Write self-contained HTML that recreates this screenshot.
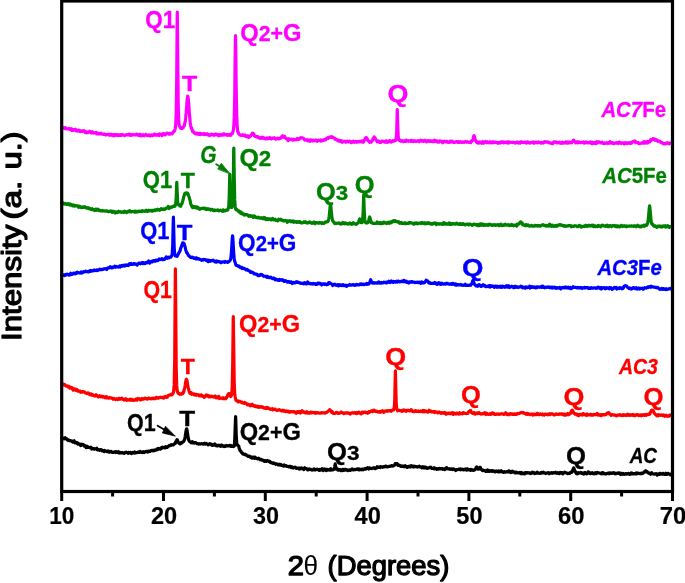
<!DOCTYPE html>
<html><head><meta charset="utf-8"><title>XRD patterns</title>
<style>
html,body{margin:0;padding:0;background:#fff;}
svg{display:block;}
text{font-family:"Liberation Sans", "DejaVu Sans", sans-serif;font-weight:bold;}
</style></head>
<body>
<svg width="685" height="583" viewBox="0 0 685 583">
<rect x="0" y="0" width="685" height="583" fill="#ffffff"/>
<g id="curves" fill="none" stroke-width="3.2" stroke-linejoin="round" stroke-linecap="round">
<polyline stroke="#000000" points="61.7,437.9 62.2,437.6 62.7,438.4 63.2,438.4 63.7,438.9 64.2,438.9 64.7,438.1 65.2,437.7 65.7,438.6 66.2,438.7 66.7,438.8 67.2,439.8 67.7,439.8 68.2,440.3 68.7,439.9 69.2,440.6 69.7,440.5 70.2,440.6 70.7,441.0 71.2,440.8 71.7,441.2 72.2,441.7 72.7,441.3 73.2,442.1 73.7,441.3 74.2,440.8 74.7,442.5 75.2,443.0 75.7,442.8 76.2,442.6 76.7,442.4 77.2,443.1 77.7,444.0 78.2,443.3 78.7,443.8 79.2,444.2 79.7,444.1 80.2,444.4 80.7,445.6 81.2,444.2 81.7,444.5 82.2,444.8 82.7,444.3 83.2,444.7 83.7,444.9 84.2,446.2 84.7,445.5 85.2,445.7 85.7,446.1 86.2,447.7 86.7,447.4 87.2,446.3 87.7,446.7 88.2,447.4 88.7,447.4 89.2,447.6 89.7,447.4 90.2,447.2 90.7,447.9 91.2,447.5 91.7,449.0 92.2,448.5 92.7,448.6 93.2,448.7 93.7,448.7 94.2,449.2 94.7,448.7 95.2,448.9 95.7,448.9 96.2,448.9 96.7,448.3 97.2,449.8 97.7,449.4 98.2,449.8 98.7,449.6 99.2,450.0 99.7,450.3 100.2,449.7 100.7,449.7 101.2,449.7 101.7,450.4 102.2,450.9 102.7,450.4 103.2,450.6 103.7,450.5 104.2,451.5 104.7,450.5 105.2,450.8 105.7,451.1 106.2,451.0 106.7,451.6 107.2,451.4 107.7,451.6 108.2,451.0 108.7,451.6 109.2,452.2 109.7,451.6 110.2,451.4 110.7,451.8 111.2,451.4 111.7,452.3 112.2,452.4 112.7,452.5 113.2,452.5 113.7,452.4 114.2,451.8 114.7,451.8 115.2,451.8 115.7,452.5 116.2,451.7 116.7,452.3 117.2,452.1 117.7,452.2 118.2,452.7 118.7,451.8 119.2,452.4 119.7,453.0 120.2,452.4 120.7,452.6 121.2,453.0 121.7,452.8 122.2,452.7 122.7,452.7 123.2,453.1 123.7,453.0 124.2,453.3 124.7,452.7 125.2,452.4 125.7,452.6 126.2,452.2 126.7,452.5 127.2,452.5 127.7,453.0 128.2,453.3 128.7,452.4 129.2,452.5 129.7,452.9 130.2,453.1 130.7,452.5 131.2,453.0 131.7,453.5 132.2,453.2 132.7,452.5 133.2,452.9 133.7,453.0 134.2,453.1 134.7,452.0 135.2,452.8 135.7,452.9 136.2,452.8 136.7,452.6 137.2,452.6 137.7,452.2 138.2,452.3 138.7,451.9 139.2,452.4 139.7,452.4 140.2,451.5 140.7,452.0 141.2,452.0 141.7,452.4 142.2,452.6 142.7,452.1 143.2,451.6 143.7,452.3 144.2,452.5 144.7,451.9 145.2,451.7 145.7,451.5 146.2,451.4 146.7,451.4 147.2,451.9 147.7,452.1 148.2,451.1 148.7,451.1 149.2,451.1 149.7,451.6 150.2,451.4 150.7,450.8 151.2,450.6 151.7,450.3 152.2,450.4 152.7,450.7 153.2,450.9 153.7,450.2 154.2,450.0 154.7,450.5 155.2,450.2 155.7,450.2 156.2,449.5 156.7,449.2 157.2,449.6 157.7,449.6 158.2,448.4 158.7,448.5 159.2,448.8 159.7,448.6 160.2,449.1 160.7,448.2 161.2,448.8 161.7,447.8 162.2,447.1 162.7,447.4 163.2,447.6 163.7,447.6 164.2,447.4 164.7,447.1 165.2,447.9 165.7,446.7 166.2,446.8 166.7,447.0 167.2,447.3 167.7,447.0 168.2,446.4 168.7,446.0 169.2,445.5 169.7,445.5 170.2,445.6 170.7,444.9 171.2,445.3 171.7,444.7 172.2,445.0 172.7,444.8 173.2,445.0 173.7,444.5 174.2,444.1 174.7,443.5 175.2,443.5 175.7,441.7 176.2,441.5 176.7,440.1 177.0,439.6 177.2,439.7 177.7,440.7 178.2,442.3 178.7,442.8 179.2,443.4 179.7,443.5 180.2,443.9 180.7,442.8 181.2,442.4 181.7,443.0 182.2,442.5 182.7,441.9 183.2,441.9 183.7,441.4 184.2,440.3 184.7,439.2 185.2,436.6 185.7,433.2 186.2,430.0 186.6,428.8 186.7,428.8 187.2,431.2 187.7,434.8 188.2,438.0 188.7,440.0 189.2,440.9 189.7,441.7 190.2,442.0 190.7,442.1 191.2,442.8 191.7,441.8 192.2,441.7 192.7,442.8 193.2,442.8 193.7,442.5 194.2,443.1 194.7,443.0 195.2,442.6 195.7,442.6 196.2,443.2 196.7,443.3 197.2,443.7 197.7,443.5 198.2,443.8 198.7,444.1 199.2,443.7 199.7,443.9 200.2,444.1 200.7,443.9 201.2,443.7 201.7,443.6 202.2,443.7 202.7,443.8 203.2,444.2 203.7,443.8 204.2,443.6 204.7,443.2 205.2,444.1 205.7,444.1 206.2,443.5 206.7,444.0 207.2,443.8 207.7,444.3 208.2,444.9 208.7,444.4 209.2,443.9 209.7,443.7 210.2,444.0 210.7,444.2 211.2,444.9 211.7,444.2 212.2,445.4 212.7,444.8 213.2,444.9 213.7,445.2 214.2,444.6 214.7,443.9 215.2,444.7 215.7,445.5 216.2,445.0 216.7,445.0 217.2,445.9 217.7,445.7 218.2,445.6 218.7,445.2 219.2,445.5 219.7,445.8 220.2,446.1 220.7,446.3 221.2,445.0 221.7,445.1 222.2,445.2 222.7,445.8 223.2,446.0 223.7,446.5 224.2,446.6 224.7,446.0 225.2,446.4 225.7,446.3 226.2,445.5 226.7,445.8 227.2,446.0 227.7,445.8 228.2,445.8 228.7,446.0 229.2,445.7 229.7,445.4 230.2,445.4 230.7,446.2 231.2,446.4 231.7,445.8 232.2,446.2 232.7,446.4 233.2,446.6 233.7,446.5 234.2,446.2 234.7,441.0 235.2,427.4 235.6,416.7 235.7,417.9 236.2,434.5 236.7,442.9 237.2,445.1 237.7,445.2 238.2,445.7 238.7,445.9 239.2,448.3 239.7,449.5 240.2,450.9 240.7,450.9 241.2,451.8 241.7,452.6 242.2,452.7 242.7,454.0 243.2,454.0 243.7,454.2 244.2,454.1 244.7,454.6 245.2,454.1 245.7,454.8 246.2,454.7 246.7,455.4 247.2,455.8 247.7,455.8 248.2,456.5 248.7,456.2 249.2,456.0 249.7,456.5 250.2,456.6 250.7,457.5 251.2,457.7 251.7,457.3 252.2,458.1 252.7,457.4 253.2,457.1 253.7,457.0 254.2,458.3 254.7,458.3 255.2,457.2 255.7,458.0 256.2,458.2 256.7,458.4 257.2,458.8 257.7,458.8 258.2,458.3 258.7,458.2 259.2,458.8 259.7,459.0 260.2,459.7 260.7,459.5 261.2,459.3 261.7,460.1 262.2,459.9 262.7,460.1 263.2,460.1 263.7,460.7 264.2,461.4 264.7,460.6 265.2,460.6 265.7,461.0 266.2,461.4 266.7,460.8 267.2,460.5 267.7,461.0 268.2,461.1 268.7,461.5 269.2,461.1 269.7,461.2 270.2,462.3 270.7,462.2 271.2,462.8 271.7,463.0 272.2,462.8 272.7,462.8 273.2,463.5 273.7,463.0 274.2,463.1 274.7,463.6 275.2,463.8 275.7,464.3 276.2,463.9 276.7,463.9 277.2,464.2 277.7,464.3 278.2,464.9 278.7,464.9 279.2,464.3 279.7,464.8 280.2,465.1 280.7,464.5 281.2,464.7 281.7,465.4 282.2,465.5 282.7,465.6 283.2,466.0 283.7,466.1 284.2,465.0 284.7,465.9 285.2,465.8 285.7,465.9 286.2,465.7 286.7,466.4 287.2,466.2 287.7,466.5 288.2,466.3 288.7,466.9 289.2,467.0 289.7,466.4 290.2,466.3 290.7,466.5 291.2,467.5 291.7,466.8 292.2,466.9 292.7,467.4 293.2,468.0 293.7,467.6 294.2,467.4 294.7,467.6 295.2,467.2 295.7,467.6 296.2,468.3 296.7,468.5 297.2,468.2 297.7,468.1 298.2,468.0 298.7,468.1 299.2,469.0 299.7,468.3 300.2,468.9 300.7,468.2 301.2,467.9 301.7,468.6 302.2,468.2 302.7,468.6 303.2,468.6 303.7,469.5 304.2,468.5 304.7,467.8 305.2,468.6 305.7,468.6 306.2,468.5 306.7,468.7 307.2,469.5 307.7,469.9 308.2,469.7 308.7,469.6 309.2,468.9 309.7,469.1 310.2,469.1 310.7,469.4 311.2,469.8 311.7,470.0 312.2,470.1 312.7,469.9 313.2,469.9 313.7,469.1 314.2,468.9 314.7,469.5 315.2,470.1 315.7,469.7 316.2,469.3 316.7,469.4 317.2,469.2 317.7,469.5 318.2,469.8 318.7,470.0 319.2,470.3 319.7,469.4 320.2,470.2 320.7,469.4 321.2,469.2 321.7,469.9 322.2,468.7 322.7,469.6 323.2,470.6 323.7,469.9 324.2,470.0 324.7,468.9 325.2,469.4 325.7,469.6 326.2,470.5 326.7,469.3 327.2,470.0 327.7,469.6 328.2,470.1 328.7,469.7 329.2,469.9 329.7,470.1 330.2,469.2 330.7,468.7 331.2,470.0 331.7,469.6 332.2,470.0 332.7,469.8 333.2,469.8 333.7,469.4 334.2,468.8 334.7,466.5 335.2,463.9 335.7,466.7 336.2,469.1 336.7,468.8 337.2,468.7 337.7,470.0 338.2,470.2 338.7,469.6 339.2,469.6 339.7,469.5 340.2,469.5 340.7,470.6 341.2,470.3 341.7,470.3 342.2,470.6 342.7,469.3 343.2,469.8 343.7,470.4 344.2,470.3 344.7,469.3 345.2,470.0 345.7,469.5 346.2,469.9 346.7,469.7 347.2,470.3 347.7,470.6 348.2,470.3 348.7,470.1 349.2,469.8 349.7,469.8 350.2,470.4 350.7,470.0 351.2,469.7 351.7,469.2 352.2,468.9 352.7,469.7 353.2,470.0 353.7,469.9 354.2,469.8 354.7,469.3 355.2,469.7 355.7,469.5 356.2,469.5 356.7,469.1 357.2,469.3 357.7,469.0 358.2,469.5 358.7,469.0 359.2,469.9 359.7,469.2 360.2,469.6 360.7,469.6 361.2,469.1 361.7,469.7 362.2,469.2 362.7,469.2 363.2,469.8 363.7,469.0 364.2,469.0 364.7,469.1 365.2,468.5 365.7,469.0 366.2,468.3 366.7,468.4 367.2,468.4 367.7,467.7 368.2,468.7 368.7,469.1 369.2,467.8 369.7,468.4 370.2,468.3 370.7,468.2 371.2,468.4 371.7,468.6 372.2,468.3 372.7,468.2 373.2,467.9 373.7,468.1 374.2,467.7 374.7,468.1 375.2,468.6 375.7,467.9 376.2,467.7 376.7,468.1 377.2,466.7 377.7,467.4 378.2,467.3 378.7,467.4 379.2,466.9 379.7,467.1 380.2,467.5 380.7,466.7 381.2,466.9 381.7,467.0 382.2,466.9 382.7,467.3 383.2,466.9 383.7,466.6 384.2,466.9 384.7,466.8 385.2,466.3 385.7,466.0 386.2,466.6 386.7,466.8 387.2,466.6 387.7,466.9 388.2,466.6 388.7,466.4 389.2,466.4 389.7,466.5 390.2,466.1 390.7,466.1 391.2,465.7 391.7,465.6 392.2,466.1 392.7,465.8 393.2,465.9 393.7,465.5 394.2,465.4 394.7,465.1 395.2,463.5 395.7,463.5 396.2,463.5 396.7,463.8 397.2,463.7 397.7,465.1 398.2,465.5 398.7,465.5 399.2,465.1 399.7,465.5 400.2,465.9 400.7,466.3 401.2,466.5 401.7,466.0 402.2,466.4 402.7,466.0 403.2,466.1 403.7,466.1 404.2,466.7 404.7,466.2 405.2,465.7 405.7,466.6 406.2,466.7 406.7,466.6 407.2,467.4 407.7,466.7 408.2,466.9 408.7,466.3 409.2,466.2 409.7,466.5 410.2,467.1 410.7,466.7 411.2,465.7 411.7,466.4 412.2,466.1 412.7,466.8 413.2,466.5 413.7,467.1 414.2,466.1 414.7,466.5 415.2,466.4 415.7,466.7 416.2,466.6 416.7,466.7 417.2,467.1 417.7,466.8 418.2,466.8 418.7,466.4 419.2,466.2 419.7,467.0 420.2,466.9 420.7,466.9 421.2,467.0 421.7,467.7 422.2,467.3 422.7,466.8 423.2,467.8 423.7,467.8 424.2,467.1 424.7,466.9 425.2,467.8 425.7,467.6 426.2,467.3 426.7,468.0 427.2,468.4 427.7,468.3 428.2,468.0 428.7,468.1 429.2,467.5 429.7,467.4 430.2,467.4 430.7,467.2 431.2,468.0 431.7,468.3 432.2,468.3 432.7,468.5 433.2,468.4 433.7,468.7 434.2,467.8 434.7,468.8 435.2,468.7 435.7,468.4 436.2,468.9 436.7,469.4 437.2,468.7 437.7,469.0 438.2,468.8 438.7,469.1 439.2,468.5 439.7,468.4 440.2,468.9 440.7,468.7 441.2,468.7 441.7,468.7 442.2,468.6 442.7,469.3 443.2,468.8 443.7,469.0 444.2,469.3 444.7,469.6 445.2,469.3 445.7,468.1 446.2,468.8 446.7,467.7 447.2,468.5 447.7,468.5 448.2,469.0 448.7,468.8 449.2,469.1 449.7,468.7 450.2,469.1 450.7,469.3 451.2,468.9 451.7,469.2 452.2,469.5 452.7,468.9 453.2,469.2 453.7,468.9 454.2,469.6 454.7,469.6 455.2,469.9 455.7,470.5 456.2,469.6 456.7,469.5 457.2,469.6 457.7,469.6 458.2,469.5 458.7,469.5 459.2,469.0 459.7,469.3 460.2,469.7 460.7,469.0 461.2,469.6 461.7,469.5 462.2,469.2 462.7,469.6 463.2,469.3 463.7,469.9 464.2,469.5 464.7,469.4 465.2,469.6 465.7,469.0 466.2,470.0 466.7,470.1 467.2,468.8 467.7,469.7 468.2,469.9 468.7,469.4 469.2,469.6 469.7,469.9 470.2,469.5 470.7,470.3 471.2,469.8 471.7,469.4 472.2,469.8 472.7,470.2 473.2,470.5 473.7,470.2 474.2,470.0 474.7,469.9 475.2,469.3 475.7,468.7 476.2,467.5 476.7,467.0 477.2,468.4 477.7,469.2 478.2,469.2 478.7,469.1 479.2,467.9 479.7,467.3 480.2,467.4 480.7,468.3 481.2,469.5 481.7,469.6 482.2,470.4 482.7,470.7 483.2,470.2 483.7,470.5 484.2,470.5 484.7,470.5 485.2,470.8 485.7,471.4 486.2,470.6 486.7,470.3 487.2,471.3 487.7,470.0 488.2,470.6 488.7,471.3 489.2,470.6 489.7,471.3 490.2,470.9 490.7,471.2 491.2,470.8 491.7,471.2 492.2,470.6 492.7,471.2 493.2,470.8 493.7,471.0 494.2,471.2 494.7,472.0 495.2,471.9 495.7,471.1 496.2,471.4 496.7,471.0 497.2,471.1 497.7,471.4 498.2,471.9 498.7,471.0 499.2,471.7 499.7,471.7 500.2,471.9 500.7,471.4 501.2,470.8 501.7,471.3 502.2,471.7 502.7,471.9 503.2,472.3 503.7,472.3 504.2,471.7 504.7,472.0 505.2,472.2 505.7,472.0 506.2,471.9 506.7,471.5 507.2,471.6 507.7,471.9 508.2,471.9 508.7,470.8 509.2,471.5 509.7,471.8 510.2,472.3 510.7,472.5 511.2,471.4 511.7,471.9 512.2,472.1 512.7,471.3 513.2,471.8 513.7,472.2 514.2,472.1 514.7,472.0 515.2,472.9 515.7,472.3 516.2,472.8 516.7,472.2 517.2,472.6 517.7,472.8 518.2,472.8 518.7,473.0 519.2,472.9 519.7,472.4 520.2,472.6 520.7,473.6 521.2,472.5 521.7,473.0 522.2,473.7 522.7,473.2 523.2,473.6 523.7,473.1 524.2,473.4 524.7,473.9 525.2,472.5 525.7,472.6 526.2,472.9 526.7,473.1 527.2,472.6 527.7,472.9 528.2,472.9 528.7,472.7 529.2,473.1 529.7,472.9 530.2,473.5 530.7,473.0 531.2,473.4 531.7,473.1 532.2,472.2 532.7,472.8 533.2,472.4 533.7,472.6 534.2,473.0 534.7,473.5 535.2,473.1 535.7,473.1 536.2,473.3 536.7,473.2 537.2,472.2 537.7,473.0 538.2,473.2 538.7,473.2 539.2,473.1 539.7,473.4 540.2,473.2 540.7,473.0 541.2,472.5 541.7,473.1 542.2,472.9 542.7,472.5 543.2,472.2 543.7,472.8 544.2,472.6 544.7,473.0 545.2,473.2 545.7,473.6 546.2,473.0 546.7,473.1 547.2,472.9 547.7,473.0 548.2,472.6 548.7,473.0 549.2,473.7 549.7,473.1 550.2,472.8 550.7,473.1 551.2,473.0 551.7,472.7 552.2,473.3 552.7,473.2 553.2,472.7 553.7,472.9 554.2,472.6 554.7,472.8 555.2,472.7 555.7,472.3 556.2,473.1 556.7,473.3 557.2,473.0 557.7,472.7 558.2,472.9 558.7,473.5 559.2,473.6 559.7,473.5 560.2,472.4 560.7,472.8 561.2,472.5 561.7,472.6 562.2,472.6 562.7,473.9 563.2,473.3 563.7,472.9 564.2,473.0 564.7,472.2 565.2,472.6 565.7,472.8 566.2,472.9 566.7,472.9 567.2,473.3 567.7,473.7 568.2,473.4 568.7,473.2 569.2,473.1 569.7,473.5 570.2,472.8 570.7,472.5 571.2,472.0 571.7,472.4 572.2,471.9 572.7,470.2 573.2,469.0 573.7,467.9 574.2,469.0 574.7,470.3 575.2,471.5 575.7,472.2 576.2,473.5 576.7,473.1 577.2,473.1 577.7,473.8 578.2,472.6 578.7,472.7 579.2,473.1 579.7,472.9 580.2,472.9 580.7,472.3 581.2,472.6 581.7,473.4 582.2,473.5 582.7,473.5 583.2,473.0 583.7,474.2 584.2,473.0 584.7,473.3 585.2,472.5 585.7,473.2 586.2,473.4 586.7,473.9 587.2,473.1 587.7,473.1 588.2,471.8 588.7,472.2 589.2,473.2 589.7,473.1 590.2,473.6 590.7,472.9 591.2,473.3 591.7,473.3 592.2,472.6 592.7,473.4 593.2,473.8 593.7,473.7 594.2,473.8 594.7,473.3 595.2,472.7 595.7,473.1 596.2,473.6 596.7,472.8 597.2,473.1 597.7,472.5 598.2,472.8 598.7,472.9 599.2,473.0 599.7,473.1 600.2,473.0 600.7,473.6 601.2,473.1 601.7,473.7 602.2,472.8 602.7,472.6 603.2,473.5 603.7,473.7 604.2,473.4 604.7,473.4 605.2,474.0 605.7,473.9 606.2,474.0 606.7,473.6 607.2,473.6 607.7,473.2 608.2,473.2 608.7,473.1 609.2,473.7 609.7,472.9 610.2,473.4 610.7,473.3 611.2,473.1 611.7,473.4 612.2,472.9 612.7,473.1 613.2,473.1 613.7,472.6 614.2,472.7 614.7,473.3 615.2,473.8 615.7,473.4 616.2,473.7 616.7,473.3 617.2,473.0 617.7,473.0 618.2,472.8 618.7,473.4 619.2,473.4 619.7,473.0 620.2,474.3 620.7,474.5 621.2,473.3 621.7,473.3 622.2,473.6 622.7,474.2 623.2,473.5 623.7,474.2 624.2,474.1 624.7,474.4 625.2,473.7 625.7,473.6 626.2,473.5 626.7,474.1 627.2,473.8 627.7,473.8 628.2,473.3 628.7,473.5 629.2,474.1 629.7,474.4 630.2,473.9 630.7,473.9 631.2,473.0 631.7,473.7 632.2,473.2 632.7,474.0 633.2,474.0 633.7,473.7 634.2,473.7 634.7,473.7 635.2,473.9 635.7,473.3 636.2,473.7 636.7,473.0 637.2,473.7 637.7,473.1 638.2,473.1 638.7,473.4 639.2,473.3 639.7,473.6 640.2,473.8 640.7,473.7 641.2,473.1 641.7,473.3 642.2,473.6 642.7,473.4 643.2,472.9 643.7,472.5 644.2,471.8 644.7,471.9 645.2,471.2 645.7,470.8 646.2,471.9 646.7,471.7 647.2,471.6 647.7,472.5 648.2,472.8 648.7,472.8 649.2,473.4 649.7,473.2 650.2,473.3 650.7,474.2 651.2,473.7 651.7,472.6 652.2,473.6 652.7,473.8 653.2,474.0 653.7,474.0 654.2,474.1 654.7,473.8 655.2,473.8 655.7,474.0 656.2,473.6 656.7,474.5 657.2,475.0 657.7,474.1 658.2,474.2 658.7,474.3 659.2,474.4 659.7,473.3 660.2,474.2 660.7,473.8 661.2,473.9 661.7,474.1 662.2,474.2 662.7,473.4 663.2,473.4 663.7,474.1 664.2,474.1 664.7,474.4 665.2,473.8 665.7,473.3 666.2,474.2 666.7,474.4 667.2,474.2 667.7,473.4 668.2,473.4 668.7,473.9 669.2,474.0 669.7,474.2 670.2,474.9 670.7,474.5 671.2,474.2 671.7,474.0 672.2,473.3"/>
<polyline stroke="#ff0000" points="61.7,383.7 62.2,383.7 62.7,384.1 63.2,384.9 63.7,384.5 64.2,384.4 64.7,384.4 65.2,385.4 65.7,385.9 66.2,385.7 66.7,385.8 67.2,385.8 67.7,386.8 68.2,386.6 68.7,386.2 69.2,387.0 69.7,388.1 70.2,387.8 70.7,387.2 71.2,388.2 71.7,388.5 72.2,387.8 72.7,389.3 73.2,390.1 73.7,389.3 74.2,388.8 74.7,388.9 75.2,389.2 75.7,390.2 76.2,390.4 76.7,389.5 77.2,390.0 77.7,391.0 78.2,390.6 78.7,390.9 79.2,391.4 79.7,391.4 80.2,391.2 80.7,392.3 81.2,391.8 81.7,391.6 82.2,392.0 82.7,391.5 83.2,391.5 83.7,391.9 84.2,392.0 84.7,392.1 85.2,392.8 85.7,392.9 86.2,393.0 86.7,393.6 87.2,393.5 87.7,393.0 88.2,392.8 88.7,393.4 89.2,394.2 89.7,393.8 90.2,394.9 90.7,394.1 91.2,393.9 91.7,394.6 92.2,395.3 92.7,394.6 93.2,395.1 93.7,395.5 94.2,395.3 94.7,396.0 95.2,396.1 95.7,395.7 96.2,394.8 96.7,395.6 97.2,395.8 97.7,396.2 98.2,397.0 98.7,396.5 99.2,396.4 99.7,395.8 100.2,396.2 100.7,396.9 101.2,396.1 101.7,396.5 102.2,396.4 102.7,397.0 103.2,396.4 103.7,396.9 104.2,397.1 104.7,397.6 105.2,396.9 105.7,397.5 106.2,397.9 106.7,396.7 107.2,397.6 107.7,397.7 108.2,398.1 108.7,398.2 109.2,397.8 109.7,397.4 110.2,398.0 110.7,398.0 111.2,398.1 111.7,397.9 112.2,398.5 112.7,398.6 113.2,399.2 113.7,398.4 114.2,398.9 114.7,398.8 115.2,399.0 115.7,399.5 116.2,399.1 116.7,398.7 117.2,399.2 117.7,399.6 118.2,399.3 118.7,399.2 119.2,398.3 119.7,399.2 120.2,399.2 120.7,398.9 121.2,399.0 121.7,398.1 122.2,398.6 122.7,399.3 123.2,399.0 123.7,399.0 124.2,400.0 124.7,399.8 125.2,399.5 125.7,398.8 126.2,399.4 126.7,400.4 127.2,399.8 127.7,400.0 128.2,399.9 128.7,399.8 129.2,400.1 129.7,399.4 130.2,400.0 130.7,399.3 131.2,400.1 131.7,400.2 132.2,399.4 132.7,400.0 133.2,400.5 133.7,400.3 134.2,400.1 134.7,400.0 135.2,400.1 135.7,399.2 136.2,399.7 136.7,399.6 137.2,400.1 137.7,398.5 138.2,398.8 138.7,398.8 139.2,399.0 139.7,398.9 140.2,399.7 140.7,399.2 141.2,399.8 141.7,398.7 142.2,398.5 142.7,398.5 143.2,399.2 143.7,399.1 144.2,398.7 144.7,398.1 145.2,398.7 145.7,398.4 146.2,398.9 146.7,398.7 147.2,399.2 147.7,398.9 148.2,398.6 148.7,398.0 149.2,398.7 149.7,398.4 150.2,398.6 150.7,398.6 151.2,398.8 151.7,398.5 152.2,398.3 152.7,398.6 153.2,398.1 153.7,398.6 154.2,398.3 154.7,398.7 155.2,398.7 155.7,398.0 156.2,397.4 156.7,397.4 157.2,397.8 157.7,397.7 158.2,398.3 158.7,397.9 159.2,397.7 159.7,397.4 160.2,397.2 160.7,397.3 161.2,397.4 161.7,397.6 162.2,397.4 162.7,397.8 163.2,397.1 163.7,398.2 164.2,397.4 164.7,396.9 165.2,396.5 165.7,396.9 166.2,397.3 166.7,396.8 167.2,397.1 167.7,396.2 168.2,395.5 168.7,395.3 169.2,395.1 169.7,395.2 170.2,394.9 170.7,395.0 171.2,394.3 171.7,394.8 172.2,394.5 172.7,394.1 173.2,393.1 173.7,391.1 174.2,384.4 174.7,360.1 175.2,287.3 175.4,268.8 175.7,304.7 176.2,368.1 176.7,385.4 177.2,390.6 177.7,392.4 178.2,393.4 178.7,393.3 179.2,393.3 179.7,394.2 180.2,393.8 180.7,394.2 181.2,394.3 181.7,394.2 182.2,393.1 182.7,393.6 183.2,392.9 183.7,391.8 184.2,389.7 184.7,387.8 185.2,385.2 185.7,381.8 186.2,379.5 186.4,379.3 186.7,379.7 187.2,382.1 187.7,385.4 188.2,387.7 188.7,389.7 189.2,391.6 189.7,392.8 190.2,393.4 190.7,392.9 191.2,392.7 191.7,394.4 192.2,394.1 192.7,393.9 193.2,393.8 193.7,393.8 194.2,394.8 194.7,394.1 195.2,394.6 195.7,394.6 196.2,395.3 196.7,394.5 197.2,395.0 197.7,395.0 198.2,394.9 198.7,394.9 199.2,395.8 199.7,395.2 200.2,395.5 200.7,395.9 201.2,394.8 201.7,395.3 202.2,396.3 202.7,396.4 203.2,396.1 203.7,396.2 204.2,397.4 204.7,396.8 205.2,396.5 205.7,395.7 206.2,395.0 206.7,395.9 207.2,395.9 207.7,395.3 208.2,396.5 208.7,396.8 209.2,396.3 209.7,396.0 210.2,396.5 210.7,396.8 211.2,396.2 211.7,396.6 212.2,396.3 212.7,396.3 213.2,396.8 213.7,397.0 214.2,397.2 214.7,396.8 215.2,396.0 215.7,396.9 216.2,397.9 216.7,397.5 217.2,397.1 217.7,397.5 218.2,398.1 218.7,396.4 219.2,397.9 219.7,398.5 220.2,398.1 220.7,398.0 221.2,398.1 221.7,398.2 222.2,398.5 222.7,398.7 223.2,397.8 223.7,398.2 224.2,398.6 224.7,398.3 225.2,398.3 225.7,398.7 226.2,397.3 226.7,397.7 227.2,396.6 227.7,395.2 228.2,394.2 228.7,393.6 229.2,393.6 229.7,393.7 230.2,395.5 230.7,396.6 231.2,395.9 231.7,394.2 232.2,387.3 232.7,363.7 233.2,319.0 233.3,316.6 233.7,345.6 234.2,381.6 234.7,393.5 235.2,397.0 235.7,399.5 236.2,400.5 236.7,400.8 237.2,400.7 237.7,401.0 238.2,401.8 238.7,401.1 239.2,401.6 239.7,401.4 240.2,401.3 240.7,401.9 241.2,402.2 241.7,402.7 242.2,402.3 242.7,402.9 243.2,403.0 243.7,403.1 244.2,403.4 244.7,402.4 245.2,403.2 245.7,403.2 246.2,403.3 246.7,403.7 247.2,404.8 247.7,404.9 248.2,404.4 248.7,404.3 249.2,404.9 249.7,405.1 250.2,405.7 250.7,404.8 251.2,405.5 251.7,404.9 252.2,404.3 252.7,405.6 253.2,405.1 253.7,405.8 254.2,405.6 254.7,406.4 255.2,405.9 255.7,405.9 256.2,406.8 256.7,406.5 257.2,406.3 257.7,406.2 258.2,407.1 258.7,407.4 259.2,406.8 259.7,407.0 260.2,406.7 260.7,407.2 261.2,407.2 261.7,406.7 262.2,406.9 262.7,407.5 263.2,407.2 263.7,407.9 264.2,408.0 264.7,408.2 265.2,407.9 265.7,408.5 266.2,407.5 266.7,407.3 267.2,408.3 267.7,407.6 268.2,408.0 268.7,408.5 269.2,408.6 269.7,408.7 270.2,409.4 270.7,409.3 271.2,409.1 271.7,408.9 272.2,408.7 272.7,409.9 273.2,409.1 273.7,409.3 274.2,409.5 274.7,409.2 275.2,409.2 275.7,409.8 276.2,409.8 276.7,410.3 277.2,410.3 277.7,410.0 278.2,410.1 278.7,410.0 279.2,409.6 279.7,409.9 280.2,410.0 280.7,410.4 281.2,410.9 281.7,410.9 282.2,410.9 282.7,410.1 283.2,411.1 283.7,411.2 284.2,410.7 284.7,410.7 285.2,411.4 285.7,411.6 286.2,411.3 286.7,411.0 287.2,411.6 287.7,411.7 288.2,411.1 288.7,411.8 289.2,412.2 289.7,412.3 290.2,411.6 290.7,411.8 291.2,411.5 291.7,411.7 292.2,411.5 292.7,411.8 293.2,411.8 293.7,411.5 294.2,411.7 294.7,412.4 295.2,412.1 295.7,412.6 296.2,413.3 296.7,412.1 297.2,411.7 297.7,411.5 298.2,412.0 298.7,412.4 299.2,411.6 299.7,411.8 300.2,413.0 300.7,411.9 301.2,412.2 301.7,412.3 302.2,410.7 302.7,412.2 303.2,412.3 303.7,411.9 304.2,412.0 304.7,412.3 305.2,412.8 305.7,412.8 306.2,412.0 306.7,411.7 307.2,412.8 307.7,413.1 308.2,413.1 308.7,412.6 309.2,412.9 309.7,413.2 310.2,412.4 310.7,412.1 311.2,412.8 311.7,412.3 312.2,412.8 312.7,412.4 313.2,412.5 313.7,412.6 314.2,412.7 314.7,412.5 315.2,413.2 315.7,412.6 316.2,413.1 316.7,412.5 317.2,412.6 317.7,412.7 318.2,412.9 318.7,412.9 319.2,413.2 319.7,413.1 320.2,413.1 320.7,413.1 321.2,412.5 321.7,412.6 322.2,412.9 322.7,412.9 323.2,412.8 323.7,412.8 324.2,412.9 324.7,413.0 325.2,413.2 325.7,412.6 326.2,412.4 326.7,412.4 327.2,412.1 327.7,411.5 328.2,411.3 328.7,410.7 329.2,410.7 329.7,409.6 330.2,410.5 330.7,410.7 331.2,411.5 331.7,412.3 332.2,411.5 332.7,412.9 333.2,413.0 333.7,413.5 334.2,413.4 334.7,413.4 335.2,413.0 335.7,413.2 336.2,412.4 336.7,412.9 337.2,412.7 337.7,413.4 338.2,412.9 338.7,413.4 339.2,413.2 339.7,413.0 340.2,412.8 340.7,412.5 341.2,412.0 341.7,412.6 342.2,412.6 342.7,413.0 343.2,413.1 343.7,413.6 344.2,412.9 344.7,413.2 345.2,413.2 345.7,413.1 346.2,412.7 346.7,413.1 347.2,413.0 347.7,412.8 348.2,412.9 348.7,413.4 349.2,413.4 349.7,413.1 350.2,414.1 350.7,413.3 351.2,413.3 351.7,412.8 352.2,412.9 352.7,412.7 353.2,413.1 353.7,413.0 354.2,413.0 354.7,412.6 355.2,412.8 355.7,413.4 356.2,412.8 356.7,413.6 357.2,413.4 357.7,412.7 358.2,412.8 358.7,412.1 359.2,413.1 359.7,412.9 360.2,413.2 360.7,413.0 361.2,413.9 361.7,413.2 362.2,412.0 362.7,412.1 363.2,412.7 363.7,412.1 364.2,412.4 364.7,412.3 365.2,412.1 365.7,412.6 366.2,412.3 366.7,412.6 367.2,412.7 367.7,413.3 368.2,412.4 368.7,411.8 369.2,412.4 369.7,411.9 370.2,411.8 370.7,411.4 371.2,410.8 371.7,410.8 372.2,410.9 372.7,411.5 373.2,410.4 373.7,411.2 374.2,410.2 374.7,410.7 375.2,410.9 375.7,411.5 376.2,411.4 376.7,411.2 377.2,411.5 377.7,411.9 378.2,412.2 378.7,411.7 379.2,411.5 379.7,411.6 380.2,412.3 380.7,411.3 381.2,411.5 381.7,411.8 382.2,411.7 382.7,410.8 383.2,412.0 383.7,412.3 384.2,412.0 384.7,411.0 385.2,411.1 385.7,411.1 386.2,411.1 386.7,410.6 387.2,411.0 387.7,411.2 388.2,410.6 388.7,410.7 389.2,410.9 389.7,410.5 390.2,410.7 390.7,410.6 391.2,411.2 391.7,410.8 392.2,410.2 392.7,410.0 393.2,409.7 393.7,409.8 394.2,407.9 394.7,401.2 395.2,377.6 395.4,370.8 395.7,383.7 396.2,403.6 396.7,408.8 397.2,409.8 397.7,410.8 398.2,410.6 398.7,410.4 399.2,410.4 399.7,410.4 400.2,410.7 400.7,410.6 401.2,410.9 401.7,411.3 402.2,410.4 402.7,411.1 403.2,410.7 403.7,409.9 404.2,410.4 404.7,410.7 405.2,411.0 405.7,410.4 406.2,411.4 406.7,410.3 407.2,410.3 407.7,410.3 408.2,410.3 408.7,410.5 409.2,410.8 409.7,410.9 410.2,410.7 410.7,410.4 411.2,409.6 411.7,410.3 412.2,411.1 412.7,411.5 413.2,411.6 413.7,411.3 414.2,411.7 414.7,411.2 415.2,410.7 415.7,410.6 416.2,411.3 416.7,411.3 417.2,411.2 417.7,411.4 418.2,410.9 418.7,411.5 419.2,411.3 419.7,411.3 420.2,411.3 420.7,411.0 421.2,411.4 421.7,411.2 422.2,411.5 422.7,411.8 423.2,410.4 423.7,411.2 424.2,411.7 424.7,410.6 425.2,411.7 425.7,411.0 426.2,411.0 426.7,411.2 427.2,411.9 427.7,412.2 428.2,411.8 428.7,411.2 429.2,410.3 429.7,410.8 430.2,411.5 430.7,411.0 431.2,411.6 431.7,412.0 432.2,411.9 432.7,411.5 433.2,411.6 433.7,411.9 434.2,411.4 434.7,412.5 435.2,411.8 435.7,411.9 436.2,411.9 436.7,412.0 437.2,412.4 437.7,412.9 438.2,412.5 438.7,412.5 439.2,412.0 439.7,412.7 440.2,412.8 440.7,412.9 441.2,413.4 441.7,412.6 442.2,413.1 442.7,412.9 443.2,412.7 443.7,412.9 444.2,413.4 444.7,412.5 445.2,413.1 445.7,413.4 446.2,414.2 446.7,413.2 447.2,413.6 447.7,413.7 448.2,413.1 448.7,413.0 449.2,413.1 449.7,413.7 450.2,413.8 450.7,413.2 451.2,413.5 451.7,413.5 452.2,412.6 452.7,414.1 453.2,414.4 453.7,412.9 454.2,413.2 454.7,413.6 455.2,413.7 455.7,414.1 456.2,413.9 456.7,413.1 457.2,413.4 457.7,413.1 458.2,413.5 458.7,414.0 459.2,413.7 459.7,412.8 460.2,413.9 460.7,413.8 461.2,413.6 461.7,413.4 462.2,413.2 462.7,413.8 463.2,412.6 463.7,412.7 464.2,413.2 464.7,413.2 465.2,413.4 465.7,413.4 466.2,413.5 466.7,413.7 467.2,413.2 467.7,413.4 468.2,412.8 468.7,411.8 469.2,411.2 469.7,411.0 470.2,410.5 470.3,410.5 470.7,410.6 471.2,411.7 471.7,412.7 472.2,412.8 472.7,413.3 473.2,413.5 473.7,412.6 474.2,412.8 474.7,413.3 475.2,414.1 475.7,413.3 476.2,413.0 476.7,413.4 477.2,413.6 477.7,413.6 478.2,412.8 478.7,413.3 479.2,412.8 479.7,413.4 480.2,413.7 480.7,414.1 481.2,413.8 481.7,413.9 482.2,413.9 482.7,413.7 483.2,413.8 483.7,413.3 484.2,413.0 484.7,412.7 485.2,413.7 485.7,414.5 486.2,414.3 486.7,413.2 487.2,413.9 487.7,414.0 488.2,414.3 488.7,414.3 489.2,413.9 489.7,413.9 490.2,413.9 490.7,414.4 491.2,414.0 491.7,413.2 492.2,413.6 492.7,412.9 493.2,413.8 493.7,413.4 494.2,413.5 494.7,414.4 495.2,414.1 495.7,414.5 496.2,414.3 496.7,413.9 497.2,414.1 497.7,414.1 498.2,414.1 498.7,413.9 499.2,414.4 499.7,414.1 500.2,414.1 500.7,413.9 501.2,413.7 501.7,413.8 502.2,413.8 502.7,414.0 503.2,414.1 503.7,414.4 504.2,413.8 504.7,414.1 505.2,413.5 505.7,412.8 506.2,414.0 506.7,414.1 507.2,414.6 507.7,413.9 508.2,414.1 508.7,414.0 509.2,414.7 509.7,414.2 510.2,413.6 510.7,413.6 511.2,414.1 511.7,413.9 512.2,414.3 512.7,413.9 513.2,414.2 513.7,414.4 514.2,414.2 514.7,413.8 515.2,413.8 515.7,414.5 516.2,414.5 516.7,414.0 517.2,413.7 517.7,413.4 518.2,413.6 518.7,413.6 519.2,413.5 519.7,413.3 520.2,413.0 520.7,412.6 521.2,412.7 521.7,412.3 522.2,412.3 522.7,412.8 523.2,412.5 523.7,412.7 524.2,413.3 524.7,413.3 525.2,413.6 525.7,413.7 526.2,414.3 526.7,413.3 527.2,414.0 527.7,414.3 528.2,413.7 528.7,414.0 529.2,414.2 529.7,414.7 530.2,414.5 530.7,414.2 531.2,414.1 531.7,414.2 532.2,414.1 532.7,415.1 533.2,414.4 533.7,414.7 534.2,414.1 534.7,414.8 535.2,414.4 535.7,414.5 536.2,414.6 536.7,414.3 537.2,413.4 537.7,413.5 538.2,414.6 538.7,414.5 539.2,414.3 539.7,414.6 540.2,413.9 540.7,414.2 541.2,414.5 541.7,414.5 542.2,414.8 542.7,414.0 543.2,414.4 543.7,414.5 544.2,415.0 544.7,414.4 545.2,414.0 545.7,414.0 546.2,414.4 546.7,414.3 547.2,414.6 547.7,414.8 548.2,414.1 548.7,414.0 549.2,414.2 549.7,413.8 550.2,414.6 550.7,414.0 551.2,414.0 551.7,413.7 552.2,413.8 552.7,414.0 553.2,414.6 553.7,414.7 554.2,414.9 554.7,415.0 555.2,414.7 555.7,414.0 556.2,413.9 556.7,414.1 557.2,414.2 557.7,414.3 558.2,414.5 558.7,414.4 559.2,413.8 559.7,414.1 560.2,414.2 560.7,414.0 561.2,413.9 561.7,413.9 562.2,414.4 562.7,414.0 563.2,414.8 563.7,414.5 564.2,415.1 564.7,414.2 565.2,415.2 565.7,414.7 566.2,415.0 566.7,415.0 567.2,414.2 567.7,413.5 568.2,414.8 568.7,414.2 569.2,414.4 569.7,413.7 570.2,413.8 570.7,413.1 571.2,411.5 571.7,410.6 572.2,410.1 572.7,410.7 573.2,411.9 573.7,413.1 574.2,413.4 574.7,413.3 575.2,414.2 575.7,413.8 576.2,414.0 576.7,414.1 577.2,414.8 577.7,415.3 578.2,414.5 578.7,415.5 579.2,415.0 579.7,414.4 580.2,414.4 580.7,414.7 581.2,414.3 581.7,414.4 582.2,415.1 582.7,415.0 583.2,413.6 583.7,414.5 584.2,414.4 584.7,414.4 585.2,414.9 585.7,414.4 586.2,414.2 586.7,415.5 587.2,414.1 587.7,414.4 588.2,415.0 588.7,414.9 589.2,415.0 589.7,414.6 590.2,414.8 590.7,414.3 591.2,415.1 591.7,414.5 592.2,414.5 592.7,415.1 593.2,415.1 593.7,414.5 594.2,414.3 594.7,414.6 595.2,414.5 595.7,414.7 596.2,414.7 596.7,414.6 597.2,413.5 597.7,415.1 598.2,415.1 598.7,414.9 599.2,414.6 599.7,414.9 600.2,415.4 600.7,414.7 601.2,415.7 601.7,414.6 602.2,414.7 602.7,414.6 603.2,414.7 603.7,414.9 604.2,414.5 604.7,414.6 605.2,414.8 605.7,414.7 606.2,414.3 606.7,413.6 607.2,413.1 607.7,412.8 608.2,412.7 608.7,412.6 609.2,413.2 609.7,414.1 610.2,414.2 610.7,414.5 611.2,415.3 611.7,414.9 612.2,415.0 612.7,414.7 613.2,415.0 613.7,415.0 614.2,415.1 614.7,414.8 615.2,415.1 615.7,415.7 616.2,415.8 616.7,415.8 617.2,415.3 617.7,415.1 618.2,415.2 618.7,415.0 619.2,415.2 619.7,414.6 620.2,415.2 620.7,415.3 621.2,415.0 621.7,415.2 622.2,415.5 622.7,415.6 623.2,414.6 623.7,415.5 624.2,415.4 624.7,414.9 625.2,414.8 625.7,415.3 626.2,415.2 626.7,415.5 627.2,414.9 627.7,414.2 628.2,414.6 628.7,415.1 629.2,415.4 629.7,415.5 630.2,414.6 630.7,415.0 631.2,415.0 631.7,415.2 632.2,414.7 632.7,415.2 633.2,414.5 633.7,415.3 634.2,415.7 634.7,415.5 635.2,415.7 635.7,414.9 636.2,415.2 636.7,414.6 637.2,414.7 637.7,414.6 638.2,414.9 638.7,415.6 639.2,415.6 639.7,415.1 640.2,414.9 640.7,415.4 641.2,415.8 641.7,414.8 642.2,415.4 642.7,415.4 643.2,414.9 643.7,414.6 644.2,414.9 644.7,415.4 645.2,414.8 645.7,415.2 646.2,415.3 646.7,414.4 647.2,414.8 647.7,414.4 648.2,414.6 648.7,414.0 649.2,413.9 649.7,414.3 650.2,412.5 650.7,412.2 651.2,410.8 651.7,410.2 652.0,410.1 652.2,410.2 652.7,410.7 653.2,410.6 653.7,411.6 654.2,413.2 654.7,413.8 655.2,414.1 655.7,414.7 656.2,414.8 656.7,415.6 657.2,414.9 657.7,415.9 658.2,415.7 658.7,414.8 659.2,415.1 659.7,415.2 660.2,415.0 660.7,415.3 661.2,415.1 661.7,414.9 662.2,415.1 662.7,415.6 663.2,415.2 663.7,415.0 664.2,415.7 664.7,416.3 665.2,416.1 665.7,415.4 666.2,415.2 666.7,416.1 667.2,416.1 667.7,416.1 668.2,415.9 668.7,416.3 669.2,416.1 669.7,415.1 670.2,415.6 670.7,415.0 671.2,415.4 671.7,415.5 672.2,415.8"/>
<polyline stroke="#0000ff" points="61.7,275.0 62.2,274.9 62.7,274.9 63.2,274.9 63.7,275.0 64.2,275.5 64.7,275.6 65.2,274.6 65.7,275.1 66.2,274.5 66.7,274.7 67.2,274.1 67.7,274.6 68.2,274.7 68.7,275.0 69.2,274.5 69.7,275.1 70.2,274.1 70.7,273.3 71.2,273.9 71.7,274.5 72.2,274.3 72.7,273.9 73.2,273.5 73.7,273.0 74.2,273.2 74.7,273.9 75.2,273.4 75.7,273.6 76.2,273.5 76.7,272.4 77.2,272.1 77.7,272.8 78.2,272.7 78.7,272.6 79.2,272.9 79.7,272.8 80.2,273.1 80.7,272.7 81.2,271.9 81.7,273.1 82.2,272.7 82.7,272.4 83.2,272.5 83.7,271.7 84.2,271.9 84.7,271.5 85.2,271.5 85.7,271.1 86.2,271.7 86.7,271.5 87.2,271.6 87.7,271.5 88.2,271.8 88.7,271.8 89.2,271.5 89.7,270.8 90.2,270.4 90.7,271.3 91.2,270.6 91.7,270.9 92.2,270.7 92.7,270.9 93.2,270.9 93.7,270.8 94.2,270.0 94.7,270.2 95.2,270.5 95.7,270.5 96.2,270.6 96.7,270.0 97.2,269.8 97.7,270.5 98.2,270.1 98.7,269.9 99.2,269.9 99.7,269.2 100.2,269.4 100.7,269.7 101.2,269.4 101.7,269.7 102.2,269.3 102.7,269.5 103.2,269.1 103.7,269.1 104.2,268.7 104.7,268.9 105.2,268.8 105.7,268.7 106.2,269.1 106.7,269.5 107.2,268.5 107.7,267.9 108.2,268.1 108.7,268.0 109.2,267.5 109.7,267.7 110.2,266.6 110.7,267.4 111.2,267.3 111.7,267.9 112.2,267.1 112.7,267.6 113.2,267.1 113.7,267.1 114.2,266.8 114.7,266.2 115.2,266.4 115.7,267.2 116.2,266.5 116.7,266.8 117.2,267.0 117.7,266.9 118.2,267.1 118.7,267.0 119.2,266.7 119.7,265.9 120.2,267.1 120.7,266.3 121.2,265.7 121.7,265.7 122.2,265.8 122.7,266.1 123.2,265.3 123.7,265.2 124.2,265.4 124.7,266.0 125.2,265.2 125.7,265.5 126.2,265.0 126.7,265.4 127.2,265.2 127.7,265.2 128.2,265.6 128.7,264.7 129.2,263.9 129.7,264.7 130.2,263.7 130.7,263.8 131.2,263.4 131.7,264.4 132.2,264.2 132.7,264.4 133.2,264.3 133.7,263.5 134.2,263.6 134.7,264.1 135.2,263.9 135.7,264.2 136.2,264.1 136.7,264.5 137.2,265.0 137.7,264.2 138.2,263.9 138.7,263.2 139.2,263.2 139.7,263.1 140.2,263.5 140.7,263.8 141.2,263.4 141.7,262.8 142.2,262.6 142.7,262.8 143.2,263.6 143.7,262.6 144.2,263.2 144.7,263.6 145.2,263.6 145.7,262.9 146.2,262.3 146.7,262.4 147.2,262.8 147.7,262.4 148.2,261.7 148.7,261.0 149.2,262.2 149.7,263.1 150.2,261.7 150.7,261.6 151.2,261.3 151.7,261.5 152.2,261.9 152.7,260.8 153.2,261.0 153.7,260.6 154.2,261.2 154.7,261.2 155.2,261.2 155.7,260.2 156.2,260.1 156.7,260.4 157.2,260.7 157.7,260.6 158.2,259.9 158.7,259.7 159.2,259.0 159.7,259.6 160.2,259.3 160.7,259.2 161.2,259.3 161.7,258.6 162.2,259.5 162.7,259.2 163.2,259.7 163.7,259.3 164.2,258.8 164.7,259.2 165.2,258.5 165.7,258.4 166.2,257.0 166.7,257.9 167.2,257.7 167.7,258.2 168.2,257.2 168.7,257.7 169.2,257.8 169.7,257.2 170.2,257.0 170.7,257.2 171.2,256.5 171.7,255.7 172.2,253.9 172.7,246.2 173.2,222.9 173.4,217.0 173.7,228.3 174.2,248.3 174.7,253.9 175.2,255.9 175.7,255.3 176.2,256.0 176.7,255.4 177.2,256.3 177.7,254.8 178.2,254.5 178.7,252.9 179.2,252.5 179.7,251.5 180.2,250.3 180.7,248.2 181.2,247.1 181.7,245.6 182.2,244.5 182.7,242.9 183.2,242.8 183.7,243.3 184.2,244.0 184.7,245.9 185.2,247.3 185.7,250.0 186.2,251.3 186.7,252.8 187.2,253.0 187.7,254.0 188.2,254.8 188.7,255.8 189.2,256.1 189.7,256.5 190.2,257.1 190.7,257.5 191.2,257.6 191.7,257.5 192.2,257.2 192.7,257.5 193.2,257.7 193.7,258.2 194.2,258.4 194.7,257.9 195.2,258.2 195.7,258.0 196.2,258.9 196.7,258.0 197.2,258.8 197.7,258.4 198.2,258.9 198.7,259.0 199.2,258.9 199.7,259.5 200.2,259.4 200.7,259.7 201.2,260.0 201.7,260.3 202.2,260.2 202.7,259.6 203.2,259.9 203.7,259.3 204.2,259.6 204.7,259.6 205.2,259.5 205.7,260.1 206.2,260.5 206.7,260.0 207.2,260.1 207.7,260.3 208.2,261.7 208.7,260.3 209.2,260.4 209.7,260.7 210.2,261.2 210.7,260.6 211.2,260.6 211.7,260.8 212.2,260.7 212.7,260.5 213.2,260.2 213.7,260.9 214.2,261.1 214.7,261.7 215.2,261.2 215.7,261.6 216.2,262.1 216.7,260.9 217.2,261.8 217.7,261.6 218.2,261.4 218.7,261.7 219.2,261.8 219.7,261.6 220.2,262.1 220.7,262.7 221.2,262.7 221.7,262.4 222.2,261.8 222.7,261.8 223.2,262.0 223.7,261.8 224.2,262.0 224.7,262.3 225.2,261.5 225.7,261.8 226.2,262.0 226.7,262.0 227.2,261.9 227.7,262.4 228.2,261.7 228.7,261.7 229.2,261.3 229.7,260.9 230.2,260.3 230.7,259.0 231.2,255.0 231.7,248.3 232.2,239.4 232.6,235.8 232.7,236.3 233.2,243.9 233.7,252.8 234.2,258.7 234.7,261.4 235.2,262.4 235.7,264.5 236.2,265.4 236.7,265.4 237.2,265.7 237.7,265.6 238.2,266.3 238.7,266.3 239.2,266.1 239.7,267.0 240.2,267.6 240.7,267.3 241.2,267.3 241.7,267.4 242.2,268.5 242.7,268.3 243.2,268.1 243.7,268.2 244.2,268.4 244.7,269.0 245.2,268.9 245.7,269.3 246.2,270.0 246.7,269.9 247.2,269.4 247.7,270.1 248.2,270.6 248.7,270.6 249.2,270.7 249.7,271.1 250.2,272.1 250.7,272.4 251.2,272.5 251.7,272.0 252.2,272.5 252.7,272.6 253.2,272.6 253.7,273.3 254.2,273.9 254.7,273.6 255.2,273.9 255.7,274.1 256.2,274.4 256.7,274.2 257.2,274.5 257.7,275.3 258.2,275.7 258.7,275.4 259.2,275.2 259.7,275.6 260.2,275.0 260.7,274.5 261.2,274.8 261.7,274.4 262.2,275.0 262.7,275.2 263.2,275.9 263.7,276.3 264.2,276.1 264.7,276.2 265.2,276.3 265.7,276.5 266.2,276.8 266.7,277.2 267.2,276.3 267.7,277.3 268.2,277.5 268.7,277.1 269.2,277.7 269.7,277.7 270.2,277.4 270.7,277.1 271.2,277.7 271.7,278.0 272.2,278.6 272.7,278.7 273.2,278.6 273.7,278.0 274.2,278.4 274.7,278.7 275.2,279.8 275.7,279.1 276.2,279.3 276.7,279.4 277.2,280.0 277.7,279.9 278.2,280.4 278.7,279.8 279.2,280.3 279.7,279.5 280.2,279.7 280.7,280.1 281.2,280.1 281.7,279.7 282.2,280.4 282.7,279.8 283.2,280.1 283.7,281.0 284.2,281.4 284.7,281.0 285.2,280.8 285.7,280.7 286.2,280.9 286.7,281.5 287.2,282.1 287.7,281.8 288.2,281.8 288.7,281.5 289.2,282.2 289.7,282.4 290.2,282.5 290.7,282.0 291.2,281.8 291.7,282.9 292.2,283.5 292.7,282.7 293.2,282.4 293.7,282.7 294.2,282.9 294.7,282.9 295.2,282.3 295.7,282.5 296.2,281.8 296.7,281.7 297.2,282.3 297.7,282.5 298.2,282.1 298.7,282.6 299.2,282.8 299.7,282.7 300.2,282.9 300.7,283.4 301.2,283.2 301.7,283.3 302.2,283.5 302.7,283.5 303.2,283.2 303.7,283.9 304.2,283.4 304.7,282.7 305.2,282.9 305.7,283.2 306.2,284.0 306.7,283.6 307.2,283.7 307.7,282.0 308.2,282.8 308.7,283.2 309.2,283.6 309.7,283.4 310.2,283.4 310.7,283.8 311.2,283.5 311.7,283.8 312.2,283.9 312.7,284.1 313.2,283.5 313.7,283.7 314.2,284.0 314.7,283.9 315.2,283.7 315.7,284.4 316.2,284.5 316.7,284.4 317.2,283.8 317.7,283.1 318.2,283.7 318.7,283.2 319.2,283.2 319.7,283.8 320.2,283.3 320.7,283.6 321.2,284.1 321.7,284.9 322.2,284.3 322.7,283.9 323.2,284.0 323.7,283.9 324.2,284.3 324.7,283.8 325.2,283.8 325.7,284.4 326.2,284.4 326.7,284.8 327.2,284.2 327.7,284.4 328.2,283.5 328.7,282.7 329.2,282.7 329.7,283.5 330.2,282.9 330.7,283.6 331.2,283.8 331.7,284.1 332.2,284.5 332.7,285.5 333.2,284.7 333.7,284.7 334.2,284.3 334.7,284.2 335.2,285.0 335.7,285.2 336.2,285.3 336.7,285.2 337.2,284.6 337.7,285.5 338.2,285.0 338.7,285.9 339.2,284.7 339.7,285.0 340.2,285.4 340.7,285.2 341.2,284.9 341.7,285.6 342.2,285.0 342.7,285.4 343.2,284.6 343.7,285.7 344.2,285.7 344.7,285.5 345.2,285.6 345.7,285.2 346.2,285.5 346.7,286.3 347.2,285.7 347.7,285.5 348.2,285.3 348.7,285.2 349.2,285.0 349.7,284.4 350.2,285.1 350.7,285.0 351.2,285.2 351.7,285.1 352.2,284.8 352.7,284.9 353.2,284.5 353.7,284.8 354.2,284.8 354.7,285.4 355.2,285.2 355.7,285.0 356.2,284.4 356.7,284.5 357.2,284.8 357.7,284.6 358.2,285.0 358.7,285.0 359.2,284.5 359.7,284.5 360.2,283.9 360.7,284.4 361.2,283.9 361.7,284.7 362.2,284.5 362.7,284.0 363.2,284.0 363.7,284.6 364.2,284.7 364.7,284.3 365.2,284.0 365.7,284.2 366.2,284.3 366.7,283.5 367.2,284.2 367.7,283.7 368.2,284.1 368.7,284.1 369.2,283.5 369.7,282.6 370.2,281.4 370.7,279.7 371.2,281.2 371.7,282.4 372.2,282.9 372.7,283.1 373.2,283.0 373.7,282.6 374.2,283.2 374.7,283.2 375.2,282.8 375.7,282.9 376.2,282.9 376.7,282.8 377.2,283.2 377.7,283.1 378.2,282.7 378.7,281.9 379.2,282.4 379.7,283.2 380.2,283.2 380.7,282.8 381.2,282.5 381.7,283.1 382.2,282.9 382.7,283.0 383.2,282.8 383.7,282.2 384.2,282.5 384.7,282.4 385.2,282.7 385.7,282.3 386.2,282.8 386.7,282.1 387.2,282.7 387.7,282.0 388.2,281.9 388.7,281.3 389.2,282.1 389.7,281.9 390.2,282.5 390.7,281.8 391.2,281.0 391.7,281.2 392.2,281.9 392.7,281.8 393.2,282.3 393.7,281.4 394.2,281.9 394.7,281.9 395.2,281.6 395.7,282.1 396.2,281.8 396.7,281.2 397.2,282.1 397.7,281.7 398.2,281.1 398.7,281.2 399.2,281.5 399.7,281.8 400.2,281.8 400.7,281.6 401.2,281.5 401.7,281.1 402.2,281.5 402.7,281.7 403.2,281.6 403.7,280.4 404.2,280.4 404.7,281.0 405.2,281.9 405.7,281.9 406.2,281.1 406.7,281.5 407.2,282.5 407.7,282.4 408.2,282.6 408.7,283.0 409.2,281.8 409.7,282.3 410.2,282.0 410.7,282.1 411.2,281.5 411.7,281.6 412.2,282.3 412.7,281.8 413.2,282.2 413.7,282.2 414.2,282.2 414.7,282.7 415.2,282.5 415.7,282.4 416.2,282.4 416.7,282.3 417.2,282.3 417.7,282.1 418.2,282.7 418.7,282.4 419.2,282.3 419.7,282.1 420.2,282.9 420.7,283.4 421.2,282.6 421.7,281.9 422.2,282.9 422.7,282.4 423.2,283.0 423.7,282.9 424.2,282.8 424.7,282.4 425.2,281.6 425.7,281.3 426.2,280.2 426.7,280.5 427.2,280.5 427.7,281.3 428.2,281.6 428.7,282.8 429.2,282.4 429.7,282.5 430.2,283.4 430.7,283.5 431.2,283.5 431.7,283.4 432.2,283.5 432.7,283.4 433.2,283.6 433.7,283.2 434.2,283.3 434.7,282.5 435.2,283.3 435.7,283.0 436.2,283.7 436.7,283.6 437.2,284.4 437.7,283.4 438.2,283.3 438.7,282.6 439.2,283.1 439.7,284.2 440.2,284.1 440.7,284.4 441.2,283.2 441.7,283.5 442.2,283.3 442.7,283.9 443.2,284.0 443.7,284.2 444.2,283.9 444.7,283.7 445.2,284.2 445.7,284.0 446.2,283.9 446.7,283.1 447.2,283.7 447.7,283.8 448.2,283.8 448.7,283.9 449.2,284.3 449.7,284.2 450.2,284.0 450.7,283.8 451.2,283.7 451.7,284.4 452.2,284.1 452.7,283.4 453.2,283.4 453.7,284.1 454.2,284.4 454.7,284.8 455.2,283.8 455.7,285.0 456.2,285.2 456.7,284.5 457.2,285.0 457.7,284.6 458.2,284.7 458.7,284.5 459.2,285.0 459.7,284.9 460.2,285.0 460.7,284.4 461.2,285.0 461.7,284.8 462.2,285.2 462.7,285.2 463.2,285.4 463.7,285.1 464.2,285.1 464.7,284.6 465.2,284.2 465.7,285.3 466.2,285.1 466.7,285.5 467.2,285.5 467.7,285.1 468.2,285.2 468.7,285.5 469.2,285.3 469.7,285.0 470.2,284.9 470.7,285.3 471.2,284.3 471.7,284.1 472.2,283.0 472.7,281.0 473.0,280.3 473.2,280.6 473.7,282.5 474.2,283.5 474.7,284.7 475.2,285.1 475.7,285.3 476.2,286.0 476.7,286.0 477.2,285.7 477.7,286.3 478.2,285.1 478.7,285.7 479.2,284.6 479.7,285.5 480.2,285.1 480.7,286.2 481.2,286.4 481.7,285.8 482.2,285.9 482.7,285.8 483.2,284.7 483.7,285.0 484.2,285.8 484.7,285.7 485.2,285.7 485.7,286.6 486.2,286.7 486.7,286.6 487.2,286.3 487.7,286.4 488.2,285.9 488.7,285.9 489.2,286.8 489.7,285.6 490.2,287.0 490.7,286.5 491.2,286.5 491.7,285.8 492.2,286.0 492.7,286.3 493.2,286.5 493.7,286.4 494.2,287.4 494.7,286.9 495.2,286.1 495.7,286.0 496.2,286.9 496.7,287.2 497.2,286.2 497.7,286.6 498.2,287.1 498.7,286.7 499.2,286.5 499.7,287.2 500.2,287.1 500.7,286.2 501.2,286.6 501.7,287.4 502.2,286.9 502.7,286.1 503.2,286.5 503.7,287.0 504.2,287.1 504.7,287.3 505.2,286.3 505.7,286.6 506.2,286.2 506.7,285.7 507.2,287.2 507.7,287.2 508.2,286.3 508.7,285.8 509.2,286.8 509.7,287.5 510.2,287.2 510.7,286.7 511.2,286.7 511.7,286.2 512.2,286.4 512.7,287.1 513.2,286.7 513.7,287.7 514.2,287.0 514.7,287.0 515.2,286.3 515.7,287.3 516.2,286.7 516.7,287.1 517.2,286.8 517.7,286.8 518.2,287.5 518.7,287.2 519.2,287.1 519.7,287.0 520.2,286.9 520.7,286.2 521.2,286.6 521.7,286.4 522.2,287.5 522.7,287.8 523.2,287.4 523.7,287.2 524.2,287.9 524.7,287.8 525.2,288.1 525.7,287.0 526.2,287.7 526.7,287.2 527.2,287.7 527.7,287.4 528.2,287.0 528.7,286.8 529.2,287.5 529.7,286.2 530.2,288.0 530.7,287.6 531.2,286.7 531.7,287.4 532.2,287.1 532.7,286.7 533.2,287.2 533.7,287.6 534.2,287.4 534.7,287.0 535.2,287.7 535.7,288.0 536.2,287.8 536.7,287.0 537.2,287.4 537.7,286.9 538.2,287.1 538.7,286.9 539.2,287.3 539.7,287.1 540.2,287.1 540.7,286.7 541.2,287.4 541.7,286.5 542.2,286.8 542.7,286.1 543.2,287.4 543.7,287.3 544.2,287.1 544.7,287.7 545.2,287.2 545.7,287.0 546.2,287.0 546.7,287.3 547.2,287.0 547.7,287.1 548.2,286.9 548.7,286.9 549.2,287.6 549.7,287.6 550.2,287.5 550.7,287.2 551.2,287.7 551.7,287.1 552.2,287.3 552.7,288.0 553.2,287.6 553.7,287.2 554.2,287.1 554.7,287.9 555.2,287.5 555.7,288.0 556.2,287.7 556.7,288.3 557.2,287.7 557.7,288.2 558.2,287.9 558.7,287.9 559.2,288.1 559.7,287.4 560.2,288.2 560.7,289.0 561.2,288.0 561.7,287.9 562.2,287.5 562.7,287.9 563.2,287.6 563.7,287.3 564.2,287.3 564.7,287.9 565.2,287.3 565.7,286.9 566.2,287.5 566.7,287.8 567.2,287.8 567.7,287.9 568.2,287.1 568.7,288.0 569.2,287.5 569.7,287.6 570.2,287.4 570.7,288.6 571.2,288.7 571.7,288.2 572.2,288.1 572.7,287.5 573.2,286.8 573.7,287.5 574.2,287.5 574.7,287.4 575.2,287.4 575.7,287.3 576.2,287.6 576.7,287.8 577.2,287.4 577.7,287.9 578.2,287.6 578.7,287.8 579.2,287.9 579.7,287.6 580.2,288.0 580.7,287.7 581.2,287.7 581.7,287.7 582.2,288.5 582.7,288.2 583.2,287.9 583.7,287.9 584.2,287.4 584.7,287.4 585.2,288.0 585.7,287.7 586.2,287.7 586.7,287.6 587.2,287.7 587.7,287.7 588.2,288.4 588.7,287.9 589.2,288.4 589.7,288.4 590.2,288.0 590.7,288.3 591.2,287.6 591.7,288.1 592.2,288.2 592.7,288.0 593.2,288.1 593.7,288.0 594.2,287.8 594.7,288.0 595.2,287.8 595.7,288.3 596.2,288.3 596.7,287.9 597.2,288.1 597.7,287.2 598.2,287.1 598.7,287.5 599.2,287.8 599.7,288.2 600.2,287.8 600.7,288.8 601.2,287.7 601.7,288.8 602.2,287.9 602.7,287.8 603.2,287.9 603.7,287.6 604.2,287.8 604.7,288.2 605.2,288.8 605.7,288.6 606.2,287.7 606.7,288.3 607.2,287.9 607.7,287.9 608.2,288.3 608.7,288.2 609.2,288.7 609.7,287.5 610.2,288.2 610.7,287.6 611.2,288.3 611.7,288.5 612.2,289.4 612.7,288.7 613.2,288.7 613.7,288.1 614.2,287.5 614.7,287.4 615.2,288.0 615.7,287.9 616.2,287.5 616.7,289.0 617.2,288.5 617.7,288.7 618.2,288.2 618.7,288.2 619.2,288.6 619.7,287.7 620.2,288.0 620.7,288.2 621.2,288.5 621.7,288.0 622.2,288.8 622.7,288.6 623.2,288.3 623.7,286.9 624.2,286.4 624.7,285.8 625.2,285.7 625.7,286.0 626.2,285.9 626.7,286.2 627.2,286.9 627.7,287.5 628.2,287.7 628.7,288.2 629.2,288.4 629.7,288.0 630.2,288.5 630.7,288.9 631.2,288.4 631.7,289.0 632.2,288.7 632.7,288.0 633.2,287.7 633.7,287.7 634.2,287.8 634.7,288.0 635.2,288.5 635.7,287.9 636.2,287.7 636.7,288.9 637.2,288.6 637.7,289.0 638.2,288.3 638.7,288.0 639.2,288.4 639.7,289.0 640.2,288.5 640.7,288.3 641.2,288.5 641.7,288.5 642.2,288.1 642.7,288.7 643.2,289.3 643.7,288.5 644.2,288.4 644.7,287.7 645.2,287.9 645.7,287.9 646.2,288.1 646.7,287.8 647.2,287.6 647.7,287.0 648.2,287.3 648.7,287.4 649.2,286.7 649.7,286.5 650.2,286.9 650.7,287.2 651.2,286.2 651.7,286.9 652.2,286.8 652.7,286.8 653.2,287.0 653.7,287.1 654.2,287.1 654.7,287.2 655.2,287.5 655.7,287.4 656.2,287.8 656.7,287.4 657.2,287.7 657.7,287.4 658.2,288.2 658.7,288.5 659.2,288.6 659.7,289.3 660.2,289.3 660.7,289.1 661.2,289.2 661.7,288.4 662.2,288.8 662.7,289.3 663.2,288.6 663.7,288.5 664.2,289.1 664.7,289.1 665.2,289.5 665.7,289.6 666.2,288.8 666.7,289.3 667.2,289.3 667.7,289.3 668.2,289.1 668.7,289.0 669.2,288.8 669.7,288.6 670.2,288.4 670.7,288.4 671.2,289.2 671.7,289.1 672.2,288.6"/>
<polyline stroke="#008000" points="61.7,203.1 62.2,203.8 62.7,202.7 63.2,203.0 63.7,203.8 64.2,204.1 64.7,203.6 65.2,203.3 65.7,204.0 66.2,204.2 66.7,204.6 67.2,203.8 67.7,204.3 68.2,204.5 68.7,203.6 69.2,203.9 69.7,204.1 70.2,205.0 70.7,204.3 71.2,205.0 71.7,204.8 72.2,205.0 72.7,205.9 73.2,204.9 73.7,205.2 74.2,205.8 74.7,206.1 75.2,205.6 75.7,205.6 76.2,206.0 76.7,205.8 77.2,206.0 77.7,205.9 78.2,206.1 78.7,207.4 79.2,206.2 79.7,206.4 80.2,206.5 80.7,206.9 81.2,207.7 81.7,207.5 82.2,207.3 82.7,206.8 83.2,206.8 83.7,207.4 84.2,207.1 84.7,206.7 85.2,207.2 85.7,207.3 86.2,207.7 86.7,208.2 87.2,207.9 87.7,208.1 88.2,207.6 88.7,208.5 89.2,208.2 89.7,208.8 90.2,208.6 90.7,208.8 91.2,209.4 91.7,209.1 92.2,208.8 92.7,209.7 93.2,209.5 93.7,210.1 94.2,210.1 94.7,210.5 95.2,209.4 95.7,209.1 96.2,209.3 96.7,210.2 97.2,209.4 97.7,209.2 98.2,209.5 98.7,210.5 99.2,210.6 99.7,210.2 100.2,210.8 100.7,210.6 101.2,210.9 101.7,210.7 102.2,210.5 102.7,211.1 103.2,210.9 103.7,210.9 104.2,210.9 104.7,211.0 105.2,211.1 105.7,210.8 106.2,211.1 106.7,210.8 107.2,210.8 107.7,211.4 108.2,211.6 108.7,211.7 109.2,211.4 109.7,211.2 110.2,211.6 110.7,211.6 111.2,211.0 111.7,211.3 112.2,212.4 112.7,212.1 113.2,211.3 113.7,212.2 114.2,212.2 114.7,211.7 115.2,213.0 115.7,212.5 116.2,212.2 116.7,211.8 117.2,212.1 117.7,212.5 118.2,212.2 118.7,211.3 119.2,211.6 119.7,211.7 120.2,211.9 120.7,211.7 121.2,212.4 121.7,212.3 122.2,212.2 122.7,212.0 123.2,211.8 123.7,212.4 124.2,211.9 124.7,211.1 125.2,211.7 125.7,211.6 126.2,212.0 126.7,212.5 127.2,212.1 127.7,212.1 128.2,211.3 128.7,211.1 129.2,211.6 129.7,210.6 130.2,211.8 130.7,211.4 131.2,211.8 131.7,211.9 132.2,211.4 132.7,211.6 133.2,211.5 133.7,211.7 134.2,212.0 134.7,211.3 135.2,212.0 135.7,211.1 136.2,212.1 136.7,211.8 137.2,211.4 137.7,211.8 138.2,211.4 138.7,211.1 139.2,211.5 139.7,211.2 140.2,211.3 140.7,211.2 141.2,211.4 141.7,211.6 142.2,210.7 142.7,211.0 143.2,211.2 143.7,211.2 144.2,211.1 144.7,211.3 145.2,211.3 145.7,210.9 146.2,210.3 146.7,211.2 147.2,211.5 147.7,211.4 148.2,210.6 148.7,210.2 149.2,211.0 149.7,211.0 150.2,210.8 150.7,210.3 151.2,210.7 151.7,210.5 152.2,211.2 152.7,210.3 153.2,210.5 153.7,210.3 154.2,210.6 154.7,209.9 155.2,210.6 155.7,210.2 156.2,209.7 156.7,210.2 157.2,210.1 157.7,209.3 158.2,209.9 158.7,209.8 159.2,209.7 159.7,210.3 160.2,209.5 160.7,209.4 161.2,208.6 161.7,208.9 162.2,209.5 162.7,209.5 163.2,209.0 163.7,208.9 164.2,209.2 164.7,209.6 165.2,209.0 165.7,208.7 166.2,208.1 166.7,208.3 167.2,208.1 167.7,207.5 168.2,206.5 168.7,207.4 169.2,208.5 169.7,207.7 170.2,207.1 170.7,207.2 171.2,207.6 171.7,207.2 172.2,207.0 172.7,206.4 173.2,206.3 173.7,205.9 174.2,206.4 174.7,206.5 175.2,205.7 175.7,203.6 176.2,197.8 176.7,183.3 176.8,182.3 177.2,192.4 177.7,202.1 178.2,204.6 178.7,204.9 179.2,204.6 179.7,205.8 180.2,205.6 180.7,206.3 181.2,204.3 181.7,204.0 182.2,202.9 182.7,201.2 183.2,199.1 183.7,196.8 184.2,195.5 184.7,193.7 185.2,193.3 185.7,192.9 186.2,192.9 186.5,192.9 186.7,193.0 187.2,194.0 187.7,193.3 188.2,194.4 188.7,196.0 189.2,197.3 189.7,199.5 190.2,200.9 190.7,203.8 191.2,204.7 191.7,206.3 192.2,207.0 192.7,207.5 193.2,207.0 193.7,206.4 194.2,206.9 194.7,207.6 195.2,206.8 195.7,207.0 196.2,206.8 196.7,208.0 197.2,208.2 197.7,207.2 198.2,208.0 198.7,208.7 199.2,208.4 199.7,209.4 200.2,208.8 200.7,208.8 201.2,208.4 201.7,208.4 202.2,208.5 202.7,208.4 203.2,208.3 203.7,208.1 204.2,208.8 204.7,208.2 205.2,208.3 205.7,209.0 206.2,209.6 206.7,208.7 207.2,209.4 207.7,209.2 208.2,209.4 208.7,208.9 209.2,208.8 209.7,209.3 210.2,209.5 210.7,210.0 211.2,209.6 211.7,209.4 212.2,209.3 212.7,210.1 213.2,210.5 213.7,210.6 214.2,210.0 214.7,210.5 215.2,210.7 215.7,210.2 216.2,210.2 216.7,210.3 217.2,210.3 217.7,209.8 218.2,210.2 218.7,210.7 219.2,210.9 219.7,210.4 220.2,210.2 220.7,210.5 221.2,210.3 221.7,210.9 222.2,210.7 222.7,211.4 223.2,209.8 223.7,210.7 224.2,211.0 224.7,211.0 225.2,210.8 225.7,210.2 226.2,210.3 226.7,210.4 227.2,209.7 227.7,210.1 228.2,208.8 228.7,206.6 229.2,197.6 229.7,175.7 229.8,174.3 230.2,189.4 230.7,204.2 231.2,207.4 231.7,207.5 232.2,206.5 232.7,203.0 233.2,188.3 233.7,150.6 233.8,148.1 234.2,174.7 234.7,199.9 235.2,206.7 235.7,209.2 236.2,209.8 236.7,209.3 237.2,210.1 237.7,210.3 238.2,210.8 238.7,211.7 239.2,211.1 239.7,211.8 240.2,212.3 240.7,213.4 241.2,212.1 241.7,213.3 242.2,213.8 242.7,214.1 243.2,213.7 243.7,213.9 244.2,215.0 244.7,214.6 245.2,214.8 245.7,214.5 246.2,214.8 246.7,214.6 247.2,214.8 247.7,214.9 248.2,215.4 248.7,216.3 249.2,216.1 249.7,215.9 250.2,215.6 250.7,216.2 251.2,215.8 251.7,216.1 252.2,215.9 252.7,216.5 253.2,217.3 253.7,216.8 254.2,215.9 254.7,216.8 255.2,217.1 255.7,216.9 256.2,217.6 256.7,217.6 257.2,217.7 257.7,217.8 258.2,217.1 258.7,218.0 259.2,218.0 259.7,217.8 260.2,218.2 260.7,218.1 261.2,217.7 261.7,218.0 262.2,218.4 262.7,218.0 263.2,218.7 263.7,218.2 264.2,217.5 264.7,218.0 265.2,218.9 265.7,218.2 266.2,219.6 266.7,218.7 267.2,219.2 267.7,218.6 268.2,219.6 268.7,219.1 269.2,219.0 269.7,218.9 270.2,218.9 270.7,219.8 271.2,219.9 271.7,219.5 272.2,219.6 272.7,218.5 273.2,219.1 273.7,219.8 274.2,219.4 274.7,219.7 275.2,219.3 275.7,220.3 276.2,220.3 276.7,220.4 277.2,220.8 277.7,220.9 278.2,220.2 278.7,219.1 279.2,219.8 279.7,219.9 280.2,219.3 280.7,219.2 281.2,219.7 281.7,220.2 282.2,220.6 282.7,220.3 283.2,220.5 283.7,220.8 284.2,220.6 284.7,220.8 285.2,220.7 285.7,220.4 286.2,220.8 286.7,221.3 287.2,222.4 287.7,220.9 288.2,221.3 288.7,220.9 289.2,221.2 289.7,220.7 290.2,221.0 290.7,221.5 291.2,221.0 291.7,221.1 292.2,221.8 292.7,221.9 293.2,221.0 293.7,222.3 294.2,221.7 294.7,221.8 295.2,221.5 295.7,221.6 296.2,221.8 296.7,222.4 297.2,222.0 297.7,221.6 298.2,221.9 298.7,222.3 299.2,221.6 299.7,222.4 300.2,221.8 300.7,222.3 301.2,222.9 301.7,222.9 302.2,223.0 302.7,222.5 303.2,222.4 303.7,221.9 304.2,222.4 304.7,222.5 305.2,221.7 305.7,222.3 306.2,222.8 306.7,222.6 307.2,223.0 307.7,222.6 308.2,222.3 308.7,222.8 309.2,222.7 309.7,221.9 310.2,222.5 310.7,222.5 311.2,222.7 311.7,223.4 312.2,223.3 312.7,223.2 313.2,223.2 313.7,222.1 314.2,222.0 314.7,223.2 315.2,223.7 315.7,222.7 316.2,222.7 316.7,222.7 317.2,222.8 317.7,222.7 318.2,222.8 318.7,223.2 319.2,222.5 319.7,222.8 320.2,222.6 320.7,223.0 321.2,223.1 321.7,223.5 322.2,222.6 322.7,223.2 323.2,223.1 323.7,223.5 324.2,223.3 324.7,222.6 325.2,222.2 325.7,221.8 326.2,222.1 326.7,221.9 327.2,221.5 327.7,221.7 328.2,221.1 328.7,219.0 329.2,216.2 329.7,211.3 330.2,205.7 330.5,204.3 330.7,205.0 331.2,210.2 331.7,215.1 332.2,218.9 332.7,220.8 333.2,221.3 333.7,222.2 334.2,222.7 334.7,223.5 335.2,223.7 335.7,223.2 336.2,223.3 336.7,223.4 337.2,223.1 337.7,223.1 338.2,223.3 338.7,223.2 339.2,223.0 339.7,223.6 340.2,223.8 340.7,224.1 341.2,223.9 341.7,223.3 342.2,223.1 342.7,222.5 343.2,223.7 343.7,223.1 344.2,223.1 344.7,223.8 345.2,222.9 345.7,223.3 346.2,223.7 346.7,223.3 347.2,223.6 347.7,224.0 348.2,224.2 348.7,223.7 349.2,223.6 349.7,223.0 350.2,223.4 350.7,224.1 351.2,223.7 351.7,224.3 352.2,224.2 352.7,223.2 353.2,222.7 353.7,223.6 354.2,223.3 354.7,223.8 355.2,223.8 355.7,224.3 356.2,224.3 356.7,224.1 357.2,223.3 357.7,222.9 358.2,222.9 358.7,221.6 359.2,220.1 359.7,218.9 360.2,219.6 360.7,221.1 361.2,222.7 361.7,222.6 362.2,222.6 362.7,219.3 363.2,210.5 363.7,194.7 364.2,210.4 364.7,219.2 365.2,221.8 365.7,222.7 366.2,222.9 366.7,222.6 367.2,223.0 367.7,222.7 368.2,222.0 368.7,220.8 369.2,218.2 369.7,216.9 370.2,218.6 370.7,220.6 371.2,222.7 371.7,222.6 372.2,222.8 372.7,223.3 373.2,223.3 373.7,223.3 374.2,223.3 374.7,223.5 375.2,223.3 375.7,223.4 376.2,223.1 376.7,223.3 377.2,222.0 377.7,223.1 378.2,223.1 378.7,223.4 379.2,223.4 379.7,222.6 380.2,223.5 380.7,222.6 381.2,222.9 381.7,223.6 382.2,223.1 382.7,223.5 383.2,223.3 383.7,222.1 384.2,222.4 384.7,222.7 385.2,223.1 385.7,222.7 386.2,222.9 386.7,223.5 387.2,223.0 387.7,223.2 388.2,222.3 388.7,223.1 389.2,223.3 389.7,222.3 390.2,221.8 390.7,221.9 391.2,222.7 391.7,222.0 392.2,222.2 392.7,221.1 393.2,220.7 393.7,220.6 394.2,221.3 394.7,221.0 395.2,220.6 395.7,221.3 396.2,221.3 396.7,221.6 397.2,221.7 397.7,221.6 398.2,222.2 398.7,221.7 399.2,222.7 399.7,223.3 400.2,223.1 400.7,222.7 401.2,222.5 401.7,223.4 402.2,223.0 402.7,223.3 403.2,223.4 403.7,223.0 404.2,223.2 404.7,223.5 405.2,222.8 405.7,223.7 406.2,223.4 406.7,223.4 407.2,223.5 407.7,223.4 408.2,223.4 408.7,223.0 409.2,222.5 409.7,223.0 410.2,222.6 410.7,222.5 411.2,222.9 411.7,223.0 412.2,223.2 412.7,223.5 413.2,223.7 413.7,224.2 414.2,223.5 414.7,223.0 415.2,223.3 415.7,223.5 416.2,222.9 416.7,222.9 417.2,223.7 417.7,223.8 418.2,223.2 418.7,223.4 419.2,223.2 419.7,223.0 420.2,223.0 420.7,222.9 421.2,223.5 421.7,223.1 422.2,222.5 422.7,222.7 423.2,223.4 423.7,223.3 424.2,222.8 424.7,222.8 425.2,223.9 425.7,223.0 426.2,223.4 426.7,223.6 427.2,223.0 427.7,223.4 428.2,223.5 428.7,222.8 429.2,223.6 429.7,223.5 430.2,223.3 430.7,223.6 431.2,224.2 431.7,223.9 432.2,223.5 432.7,224.0 433.2,223.4 433.7,223.4 434.2,223.4 434.7,222.8 435.2,223.1 435.7,223.4 436.2,224.7 436.7,223.5 437.2,224.0 437.7,223.7 438.2,223.6 438.7,224.1 439.2,224.2 439.7,224.0 440.2,223.7 440.7,223.8 441.2,224.0 441.7,224.2 442.2,223.8 442.7,224.4 443.2,224.0 443.7,222.6 444.2,222.7 444.7,223.2 445.2,224.2 445.7,223.7 446.2,223.6 446.7,224.2 447.2,223.9 447.7,224.1 448.2,224.2 448.7,223.8 449.2,222.9 449.7,223.5 450.2,224.3 450.7,223.5 451.2,224.3 451.7,223.7 452.2,223.9 452.7,224.1 453.2,223.5 453.7,224.0 454.2,223.8 454.7,223.9 455.2,224.2 455.7,223.7 456.2,223.8 456.7,223.1 457.2,223.7 457.7,224.0 458.2,224.1 458.7,224.4 459.2,224.5 459.7,223.7 460.2,224.0 460.7,223.6 461.2,224.5 461.7,224.4 462.2,223.9 462.7,224.4 463.2,223.6 463.7,224.2 464.2,224.6 464.7,224.6 465.2,224.9 465.7,224.4 466.2,224.3 466.7,224.0 467.2,224.0 467.7,224.0 468.2,224.7 468.7,224.9 469.2,224.6 469.7,224.0 470.2,224.5 470.7,224.4 471.2,224.5 471.7,225.1 472.2,225.4 472.7,224.5 473.2,224.6 473.7,224.0 474.2,224.0 474.7,224.4 475.2,224.6 475.7,224.9 476.2,224.8 476.7,224.4 477.2,225.1 477.7,225.6 478.2,225.1 478.7,224.3 479.2,224.4 479.7,225.5 480.2,224.0 480.7,223.8 481.2,224.2 481.7,225.1 482.2,224.0 482.7,224.5 483.2,224.8 483.7,225.4 484.2,224.4 484.7,224.6 485.2,224.5 485.7,225.2 486.2,224.8 486.7,224.9 487.2,224.7 487.7,225.3 488.2,225.3 488.7,224.5 489.2,224.8 489.7,224.3 490.2,224.8 490.7,224.5 491.2,224.7 491.7,225.2 492.2,225.4 492.7,224.8 493.2,224.9 493.7,224.8 494.2,225.2 494.7,224.6 495.2,224.9 495.7,225.4 496.2,225.3 496.7,224.9 497.2,225.0 497.7,224.5 498.2,224.5 498.7,225.5 499.2,225.7 499.7,225.4 500.2,224.9 500.7,224.1 501.2,225.1 501.7,225.6 502.2,225.0 502.7,225.4 503.2,224.9 503.7,225.4 504.2,224.8 504.7,224.4 505.2,224.2 505.7,225.0 506.2,225.2 506.7,225.1 507.2,224.9 507.7,225.0 508.2,224.7 508.7,225.4 509.2,225.7 509.7,225.1 510.2,224.8 510.7,224.8 511.2,225.4 511.7,224.5 512.2,224.9 512.7,225.4 513.2,225.2 513.7,225.8 514.2,225.1 514.7,225.4 515.2,225.0 515.7,225.0 516.2,225.2 516.7,226.1 517.2,224.1 517.7,224.5 518.2,224.3 518.7,224.1 519.2,223.6 519.7,223.0 520.2,222.1 520.7,221.8 521.2,222.2 521.7,223.3 522.2,222.9 522.7,224.8 523.2,225.0 523.7,224.8 524.2,225.1 524.7,225.5 525.2,224.9 525.7,224.7 526.2,225.7 526.7,224.8 527.2,225.4 527.7,225.5 528.2,225.0 528.7,225.9 529.2,225.8 529.7,226.1 530.2,225.8 530.7,225.8 531.2,225.5 531.7,225.3 532.2,226.1 532.7,225.9 533.2,226.2 533.7,225.9 534.2,226.1 534.7,225.3 535.2,225.3 535.7,225.8 536.2,225.5 536.7,225.7 537.2,226.1 537.7,225.4 538.2,225.6 538.7,225.9 539.2,226.1 539.7,225.6 540.2,226.1 540.7,225.8 541.2,225.4 541.7,225.3 542.2,224.9 542.7,224.8 543.2,224.7 543.7,225.0 544.2,225.4 544.7,225.6 545.2,225.4 545.7,226.1 546.2,226.1 546.7,225.3 547.2,225.3 547.7,225.8 548.2,226.1 548.7,226.1 549.2,224.6 549.7,224.1 550.2,225.9 550.7,225.6 551.2,226.2 551.7,225.7 552.2,225.1 552.7,226.1 553.2,226.1 553.7,226.4 554.2,225.9 554.7,225.7 555.2,226.1 555.7,226.1 556.2,225.5 556.7,225.8 557.2,226.1 557.7,225.2 558.2,225.2 558.7,225.0 559.2,225.1 559.7,224.6 560.2,224.5 560.7,225.1 561.2,224.8 561.7,225.4 562.2,225.6 562.7,225.4 563.2,225.7 563.7,226.1 564.2,225.7 564.7,226.3 565.2,225.9 565.7,225.8 566.2,225.8 566.7,226.3 567.2,226.1 567.7,225.9 568.2,225.6 568.7,225.8 569.2,225.6 569.7,225.3 570.2,225.6 570.7,226.1 571.2,226.7 571.7,225.9 572.2,226.4 572.7,226.4 573.2,226.5 573.7,226.5 574.2,226.2 574.7,225.7 575.2,225.8 575.7,225.9 576.2,225.8 576.7,226.3 577.2,226.7 577.7,226.4 578.2,226.6 578.7,225.9 579.2,225.3 579.7,225.5 580.2,225.8 580.7,226.5 581.2,227.0 581.7,226.4 582.2,226.7 582.7,226.6 583.2,226.2 583.7,226.4 584.2,226.1 584.7,226.5 585.2,225.8 585.7,225.3 586.2,226.0 586.7,226.3 587.2,226.4 587.7,225.5 588.2,225.6 588.7,225.2 589.2,225.9 589.7,225.6 590.2,225.5 590.7,226.1 591.2,225.3 591.7,225.2 592.2,226.0 592.7,225.7 593.2,225.2 593.7,226.7 594.2,226.1 594.7,226.3 595.2,226.0 595.7,226.5 596.2,226.2 596.7,226.6 597.2,226.1 597.7,226.4 598.2,225.4 598.7,225.5 599.2,225.8 599.7,226.2 600.2,226.6 600.7,226.8 601.2,226.2 601.7,225.4 602.2,225.5 602.7,225.2 603.2,225.9 603.7,225.9 604.2,225.8 604.7,226.2 605.2,226.3 605.7,225.6 606.2,225.6 606.7,226.2 607.2,225.1 607.7,226.3 608.2,226.7 608.7,226.7 609.2,225.7 609.7,225.6 610.2,225.6 610.7,226.2 611.2,226.3 611.7,226.6 612.2,226.2 612.7,225.5 613.2,225.8 613.7,225.7 614.2,225.8 614.7,225.5 615.2,226.4 615.7,226.7 616.2,226.0 616.7,225.8 617.2,226.9 617.7,226.0 618.2,226.5 618.7,226.2 619.2,226.4 619.7,226.9 620.2,226.2 620.7,226.2 621.2,225.4 621.7,226.1 622.2,225.8 622.7,226.5 623.2,226.3 623.7,226.1 624.2,225.6 624.7,226.1 625.2,226.4 625.7,226.2 626.2,226.8 626.7,226.0 627.2,226.4 627.7,226.5 628.2,226.1 628.7,226.1 629.2,226.0 629.7,226.2 630.2,226.1 630.7,226.1 631.2,225.9 631.7,225.8 632.2,226.2 632.7,226.2 633.2,226.2 633.7,226.5 634.2,225.9 634.7,226.0 635.2,225.9 635.7,226.2 636.2,226.7 636.7,226.2 637.2,226.2 637.7,225.3 638.2,226.1 638.7,226.4 639.2,226.2 639.7,226.1 640.2,226.9 640.7,226.5 641.2,226.8 641.7,225.9 642.2,226.2 642.7,226.2 643.2,226.2 643.7,225.2 644.2,226.3 644.7,226.1 645.2,225.4 645.7,225.0 646.2,225.5 646.7,225.3 647.2,224.3 647.7,223.0 648.2,220.3 648.7,215.0 649.2,208.5 649.6,205.9 649.7,206.1 650.2,210.6 650.7,217.0 651.2,221.6 651.7,223.7 652.2,224.4 652.7,224.1 653.2,225.2 653.7,225.9 654.2,226.3 654.7,226.1 655.2,225.8 655.7,226.2 656.2,226.7 656.7,227.4 657.2,226.6 657.7,226.1 658.2,226.7 658.7,226.7 659.2,225.9 659.7,226.3 660.2,226.8 660.7,226.9 661.2,226.1 661.7,226.4 662.2,227.0 662.7,226.6 663.2,225.9 663.7,226.3 664.2,226.5 664.7,226.2 665.2,225.7 665.7,227.1 666.2,226.9 666.7,226.7 667.2,226.7 667.7,225.6 668.2,226.7 668.7,227.1 669.2,227.5 669.7,226.7 670.2,226.8 670.7,226.6 671.2,226.4 671.7,226.3 672.2,227.1"/>
<polyline stroke="#ff00ff" points="61.7,128.5 62.2,127.7 62.7,127.8 63.2,128.0 63.7,127.6 64.2,128.1 64.7,128.5 65.2,127.7 65.7,128.5 66.2,128.8 66.7,128.7 67.2,128.8 67.7,129.0 68.2,128.7 68.7,128.6 69.2,128.4 69.7,129.4 70.2,129.2 70.7,129.1 71.2,128.8 71.7,130.4 72.2,129.9 72.7,129.5 73.2,130.4 73.7,130.0 74.2,129.5 74.7,129.7 75.2,129.3 75.7,130.5 76.2,129.9 76.7,130.0 77.2,131.1 77.7,130.5 78.2,131.1 78.7,130.1 79.2,130.5 79.7,130.6 80.2,131.6 80.7,131.4 81.2,130.9 81.7,131.4 82.2,130.9 82.7,131.3 83.2,131.1 83.7,130.6 84.2,130.7 84.7,131.8 85.2,132.5 85.7,131.8 86.2,131.8 86.7,132.8 87.2,132.4 87.7,132.5 88.2,132.4 88.7,132.0 89.2,131.6 89.7,131.2 90.2,132.1 90.7,132.3 91.2,132.8 91.7,132.1 92.2,131.6 92.7,132.1 93.2,133.0 93.7,132.8 94.2,132.9 94.7,133.0 95.2,133.0 95.7,132.7 96.2,132.5 96.7,133.9 97.2,133.2 97.7,133.1 98.2,133.9 98.7,134.0 99.2,133.3 99.7,133.6 100.2,133.9 100.7,133.8 101.2,133.3 101.7,134.0 102.2,134.2 102.7,134.2 103.2,134.0 103.7,134.3 104.2,134.0 104.7,134.0 105.2,134.6 105.7,134.9 106.2,134.5 106.7,134.5 107.2,134.6 107.7,134.7 108.2,134.7 108.7,134.2 109.2,134.3 109.7,135.3 110.2,135.2 110.7,134.6 111.2,134.2 111.7,134.4 112.2,135.3 112.7,135.6 113.2,134.7 113.7,135.0 114.2,134.7 114.7,135.6 115.2,134.9 115.7,135.2 116.2,134.4 116.7,134.6 117.2,135.2 117.7,135.6 118.2,135.3 118.7,134.8 119.2,135.4 119.7,135.4 120.2,134.9 120.7,134.6 121.2,135.4 121.7,134.9 122.2,134.5 122.7,134.8 123.2,134.8 123.7,135.0 124.2,135.6 124.7,135.4 125.2,135.0 125.7,135.0 126.2,134.8 126.7,134.5 127.2,134.8 127.7,135.0 128.2,135.0 128.7,134.2 129.2,134.2 129.7,135.1 130.2,134.6 130.7,134.6 131.2,135.4 131.7,134.8 132.2,135.0 132.7,134.8 133.2,134.6 133.7,134.6 134.2,134.9 134.7,134.9 135.2,134.7 135.7,134.8 136.2,134.3 136.7,134.9 137.2,134.2 137.7,134.6 138.2,135.1 138.7,135.4 139.2,135.4 139.7,134.3 140.2,135.5 140.7,135.9 141.2,135.8 141.7,134.9 142.2,135.1 142.7,135.6 143.2,134.8 143.7,135.7 144.2,135.8 144.7,135.0 145.2,135.1 145.7,134.4 146.2,134.8 146.7,135.1 147.2,135.5 147.7,135.1 148.2,135.3 148.7,134.8 149.2,135.2 149.7,135.9 150.2,136.0 150.7,135.1 151.2,135.4 151.7,135.0 152.2,135.6 152.7,135.5 153.2,135.5 153.7,134.8 154.2,134.0 154.7,134.1 155.2,134.9 155.7,134.7 156.2,135.3 156.7,135.2 157.2,134.7 157.7,135.1 158.2,134.6 158.7,134.3 159.2,135.5 159.7,133.9 160.2,134.3 160.7,134.4 161.2,134.5 161.7,134.2 162.2,135.6 162.7,134.6 163.2,133.7 163.7,133.7 164.2,134.5 164.7,134.8 165.2,134.9 165.7,134.0 166.2,133.7 166.7,133.1 167.2,133.1 167.7,133.6 168.2,133.8 168.7,134.1 169.2,133.4 169.7,133.5 170.2,134.0 170.7,133.6 171.2,133.5 171.7,133.4 172.2,133.7 172.7,132.7 173.2,132.2 173.7,131.5 174.2,131.3 174.7,130.6 175.2,128.5 175.7,124.7 176.2,114.0 176.7,79.7 177.2,15.9 177.3,12.1 177.7,53.0 178.2,103.2 178.7,120.3 179.2,125.4 179.7,126.6 180.2,127.4 180.7,128.2 181.2,128.4 181.7,127.8 182.2,128.3 182.7,127.3 183.2,127.5 183.7,126.4 184.2,126.0 184.7,123.7 185.2,121.6 185.7,117.5 186.2,112.4 186.7,105.6 187.2,99.5 187.7,96.2 187.8,96.3 188.2,98.2 188.7,103.9 189.2,110.8 189.7,117.2 190.2,122.2 190.7,125.8 191.2,127.7 191.7,128.3 192.2,130.4 192.7,131.8 193.2,131.7 193.7,131.9 194.2,132.8 194.7,133.1 195.2,133.8 195.7,133.5 196.2,133.9 196.7,133.5 197.2,133.1 197.7,134.0 198.2,134.3 198.7,133.7 199.2,133.6 199.7,133.3 200.2,134.7 200.7,134.2 201.2,133.6 201.7,133.7 202.2,134.2 202.7,134.3 203.2,133.8 203.7,134.4 204.2,134.0 204.7,133.6 205.2,134.5 205.7,134.5 206.2,134.2 206.7,134.6 207.2,133.8 207.7,134.4 208.2,135.1 208.7,135.1 209.2,134.6 209.7,135.5 210.2,134.6 210.7,134.6 211.2,134.4 211.7,134.1 212.2,134.8 212.7,135.0 213.2,134.5 213.7,134.7 214.2,135.3 214.7,134.3 215.2,134.0 215.7,134.1 216.2,134.0 216.7,134.9 217.2,134.8 217.7,134.7 218.2,134.9 218.7,135.9 219.2,134.5 219.7,134.5 220.2,135.1 220.7,135.3 221.2,135.0 221.7,134.4 222.2,134.3 222.7,135.1 223.2,134.8 223.7,133.8 224.2,134.9 224.7,134.8 225.2,134.3 225.7,134.6 226.2,135.0 226.7,134.6 227.2,134.4 227.7,135.3 228.2,134.6 228.7,135.1 229.2,134.7 229.7,135.1 230.2,135.0 230.7,135.3 231.2,133.9 231.7,133.7 232.2,133.5 232.7,132.5 233.2,131.0 233.7,127.5 234.2,119.2 234.7,97.2 235.2,51.7 235.5,35.6 235.7,43.4 236.2,89.1 236.7,115.1 237.2,126.7 237.7,131.6 238.2,132.3 238.7,133.7 239.2,134.3 239.7,134.7 240.2,135.2 240.7,135.3 241.2,135.2 241.7,135.6 242.2,135.2 242.7,134.7 243.2,135.1 243.7,135.6 244.2,135.3 244.7,135.0 245.2,136.2 245.7,135.5 246.2,136.2 246.7,136.8 247.2,136.2 247.7,135.8 248.2,136.0 248.7,137.4 249.2,136.9 249.7,136.7 250.2,136.4 250.7,135.6 251.2,135.1 251.7,134.5 252.2,133.3 252.7,133.2 253.2,133.3 253.7,134.0 254.2,135.4 254.7,136.2 255.2,136.5 255.7,136.7 256.2,136.3 256.7,136.8 257.2,136.5 257.7,137.3 258.2,137.0 258.7,137.6 259.2,138.1 259.7,138.0 260.2,137.9 260.7,138.5 261.2,137.5 261.7,138.0 262.2,137.9 262.7,137.3 263.2,138.4 263.7,137.7 264.2,138.1 264.7,138.2 265.2,138.9 265.7,138.9 266.2,138.3 266.7,137.9 267.2,138.2 267.7,138.7 268.2,138.1 268.7,137.8 269.2,138.3 269.7,137.5 270.2,138.3 270.7,138.2 271.2,139.0 271.7,138.5 272.2,138.1 272.7,138.3 273.2,138.0 273.7,138.1 274.2,137.7 274.7,138.3 275.2,138.6 275.7,139.2 276.2,138.8 276.7,138.7 277.2,138.5 277.7,138.1 278.2,138.7 278.7,138.9 279.2,138.8 279.7,138.3 280.2,138.1 280.7,138.1 281.2,138.1 281.7,136.5 282.2,136.3 282.7,135.7 283.2,136.5 283.7,137.0 284.2,137.5 284.7,136.5 285.2,137.7 285.7,137.9 286.2,138.6 286.7,138.6 287.2,139.1 287.7,140.0 288.2,140.5 288.7,138.7 289.2,139.2 289.7,139.3 290.2,139.4 290.7,139.4 291.2,139.1 291.7,139.3 292.2,139.9 292.7,140.2 293.2,139.8 293.7,139.2 294.2,139.6 294.7,139.7 295.2,140.0 295.7,139.7 296.2,139.5 296.7,139.6 297.2,138.5 297.7,139.1 298.2,139.5 298.7,138.8 299.2,139.1 299.7,138.1 300.2,138.2 300.7,138.0 301.2,137.6 301.7,138.0 302.2,137.8 302.7,138.1 303.2,138.2 303.7,138.5 304.2,139.1 304.7,140.0 305.2,139.7 305.7,139.9 306.2,140.1 306.7,139.8 307.2,139.7 307.7,140.7 308.2,140.9 308.7,140.3 309.2,139.9 309.7,140.6 310.2,141.2 310.7,140.0 311.2,140.5 311.7,140.1 312.2,140.2 312.7,141.0 313.2,140.2 313.7,140.3 314.2,140.8 314.7,140.7 315.2,140.3 315.7,140.0 316.2,140.4 316.7,140.3 317.2,141.3 317.7,140.6 318.2,140.3 318.7,140.2 319.2,140.3 319.7,140.3 320.2,139.9 320.7,141.1 321.2,140.2 321.7,140.0 322.2,140.3 322.7,140.6 323.2,140.5 323.7,139.8 324.2,139.7 324.7,139.5 325.2,139.8 325.7,139.8 326.2,139.0 326.7,138.3 327.2,138.3 327.7,137.7 328.2,138.4 328.7,137.7 329.2,137.2 329.7,137.3 330.2,137.0 330.7,136.9 331.2,137.3 331.7,136.7 332.2,136.8 332.7,137.6 333.2,137.4 333.7,137.8 334.2,138.1 334.7,138.2 335.2,139.2 335.7,139.1 336.2,139.5 336.7,139.5 337.2,139.8 337.7,140.7 338.2,141.1 338.7,140.2 339.2,140.3 339.7,141.0 340.2,141.3 340.7,140.7 341.2,141.0 341.7,140.8 342.2,142.3 342.7,141.8 343.2,141.8 343.7,141.4 344.2,141.3 344.7,141.4 345.2,141.4 345.7,142.2 346.2,141.9 346.7,141.9 347.2,141.1 347.7,141.3 348.2,141.7 348.7,142.0 349.2,141.6 349.7,141.2 350.2,141.4 350.7,141.6 351.2,142.7 351.7,142.4 352.2,142.0 352.7,141.5 353.2,141.2 353.7,142.0 354.2,142.3 354.7,141.9 355.2,141.5 355.7,141.8 356.2,141.4 356.7,142.2 357.2,141.8 357.7,141.5 358.2,141.8 358.7,141.4 359.2,141.9 359.7,141.4 360.2,141.7 360.7,141.6 361.2,141.2 361.7,141.0 362.2,141.8 362.7,141.3 363.2,142.2 363.7,141.8 364.2,140.3 364.7,140.0 365.2,138.5 365.7,138.1 366.2,137.5 366.7,138.4 367.2,138.8 367.7,140.2 368.2,140.6 368.7,141.2 369.2,142.0 369.7,142.3 370.2,141.9 370.7,141.8 371.2,142.1 371.7,141.1 372.2,140.8 372.7,139.7 373.2,138.3 373.7,137.9 374.2,136.9 374.7,138.0 375.2,138.3 375.7,139.2 376.2,140.3 376.7,140.7 377.2,141.8 377.7,141.5 378.2,141.4 378.7,141.0 379.2,141.8 379.7,142.3 380.2,141.9 380.7,142.4 381.2,141.8 381.7,141.2 382.2,141.0 382.7,141.4 383.2,141.6 383.7,141.4 384.2,141.7 384.7,142.1 385.2,142.2 385.7,141.8 386.2,140.8 386.7,141.4 387.2,142.3 387.7,141.9 388.2,142.0 388.7,141.1 389.2,141.7 389.7,140.7 390.2,141.3 390.7,141.1 391.2,142.0 391.7,141.6 392.2,141.1 392.7,140.7 393.2,141.2 393.7,141.2 394.2,141.0 394.7,140.6 395.2,140.4 395.7,140.2 396.2,138.5 396.7,131.5 397.2,111.0 397.3,109.5 397.7,124.4 398.2,136.3 398.7,139.5 399.2,140.3 399.7,140.2 400.2,140.2 400.7,141.2 401.2,141.2 401.7,141.2 402.2,140.7 402.7,141.5 403.2,141.5 403.7,141.7 404.2,140.9 404.7,140.8 405.2,141.2 405.7,141.4 406.2,140.1 406.7,140.6 407.2,140.6 407.7,141.1 408.2,140.7 408.7,141.3 409.2,140.9 409.7,140.9 410.2,141.1 410.7,141.4 411.2,140.3 411.7,141.1 412.2,140.8 412.7,140.6 413.2,141.6 413.7,141.1 414.2,141.1 414.7,140.7 415.2,141.0 415.7,141.4 416.2,141.5 416.7,141.1 417.2,141.1 417.7,140.7 418.2,140.8 418.7,141.2 419.2,141.7 419.7,140.6 420.2,140.9 420.7,140.3 421.2,140.9 421.7,141.2 422.2,140.7 422.7,140.9 423.2,141.3 423.7,140.8 424.2,140.4 424.7,140.3 425.2,140.3 425.7,141.5 426.2,141.0 426.7,141.8 427.2,141.7 427.7,140.8 428.2,140.6 428.7,141.0 429.2,141.1 429.7,141.5 430.2,140.8 430.7,141.3 431.2,141.0 431.7,140.9 432.2,141.6 432.7,141.6 433.2,141.7 433.7,140.6 434.2,140.3 434.7,141.5 435.2,140.9 435.7,140.7 436.2,140.5 436.7,140.8 437.2,142.0 437.7,141.5 438.2,141.4 438.7,141.6 439.2,142.1 439.7,141.0 440.2,141.3 440.7,141.2 441.2,141.3 441.7,141.2 442.2,142.0 442.7,142.7 443.2,142.3 443.7,141.6 444.2,141.2 444.7,141.7 445.2,141.7 445.7,141.8 446.2,141.7 446.7,141.3 447.2,142.2 447.7,142.3 448.2,142.4 448.7,142.5 449.2,142.2 449.7,141.4 450.2,141.1 450.7,142.0 451.2,141.3 451.7,141.2 452.2,141.2 452.7,141.9 453.2,142.0 453.7,142.4 454.2,142.5 454.7,142.0 455.2,142.2 455.7,142.1 456.2,141.8 456.7,141.5 457.2,141.7 457.7,142.4 458.2,141.9 458.7,141.6 459.2,142.4 459.7,142.3 460.2,142.1 460.7,141.6 461.2,142.2 461.7,142.4 462.2,142.2 462.7,141.9 463.2,142.1 463.7,142.3 464.2,142.3 464.7,141.8 465.2,141.7 465.7,141.7 466.2,142.2 466.7,142.2 467.2,141.7 467.7,142.2 468.2,142.3 468.7,142.4 469.2,142.1 469.7,142.2 470.2,142.1 470.7,142.6 471.2,141.2 471.7,141.3 472.2,140.8 472.7,140.4 473.2,138.4 473.7,136.1 474.0,135.6 474.2,135.8 474.7,137.7 475.2,139.7 475.7,140.8 476.2,141.7 476.7,142.4 477.2,142.8 477.7,142.0 478.2,142.5 478.7,143.0 479.2,142.5 479.7,142.0 480.2,142.4 480.7,142.2 481.2,142.8 481.7,143.3 482.2,143.2 482.7,141.6 483.2,142.4 483.7,143.1 484.2,142.1 484.7,141.9 485.2,142.0 485.7,141.4 486.2,142.4 486.7,142.8 487.2,141.8 487.7,142.2 488.2,142.1 488.7,142.6 489.2,142.9 489.7,142.3 490.2,141.8 490.7,142.3 491.2,142.5 491.7,142.9 492.2,142.0 492.7,141.9 493.2,141.8 493.7,142.7 494.2,142.5 494.7,142.4 495.2,142.2 495.7,142.2 496.2,142.3 496.7,142.5 497.2,142.6 497.7,143.2 498.2,142.6 498.7,142.3 499.2,142.6 499.7,143.0 500.2,142.5 500.7,142.1 501.2,141.9 501.7,142.5 502.2,141.9 502.7,142.2 503.2,141.9 503.7,142.8 504.2,142.6 504.7,142.5 505.2,142.2 505.7,142.6 506.2,142.2 506.7,142.1 507.2,142.9 507.7,141.9 508.2,141.8 508.7,143.0 509.2,141.9 509.7,142.1 510.2,142.2 510.7,142.3 511.2,142.4 511.7,142.3 512.2,142.4 512.7,142.4 513.2,142.2 513.7,142.5 514.2,142.7 514.7,142.9 515.2,142.7 515.7,143.0 516.2,142.4 516.7,142.3 517.2,142.0 517.7,142.6 518.2,143.0 518.7,142.5 519.2,142.3 519.7,143.0 520.2,143.1 520.7,142.1 521.2,141.7 521.7,142.3 522.2,142.3 522.7,142.4 523.2,142.6 523.7,142.2 524.2,142.2 524.7,142.5 525.2,142.4 525.7,142.2 526.2,143.1 526.7,143.0 527.2,142.0 527.7,141.8 528.2,142.1 528.7,142.5 529.2,143.0 529.7,143.0 530.2,143.1 530.7,142.7 531.2,142.3 531.7,142.4 532.2,142.6 532.7,142.3 533.2,141.9 533.7,142.7 534.2,143.3 534.7,142.5 535.2,142.2 535.7,142.4 536.2,142.1 536.7,142.2 537.2,142.9 537.7,142.4 538.2,142.2 538.7,141.8 539.2,142.3 539.7,142.3 540.2,142.7 540.7,143.2 541.2,143.0 541.7,142.4 542.2,142.8 542.7,142.5 543.2,143.0 543.7,142.6 544.2,141.8 544.7,141.7 545.2,142.2 545.7,141.8 546.2,142.1 546.7,142.1 547.2,141.8 547.7,141.8 548.2,142.2 548.7,142.7 549.2,143.0 549.7,142.7 550.2,142.8 550.7,142.9 551.2,143.0 551.7,143.5 552.2,143.6 552.7,143.7 553.2,143.2 553.7,141.9 554.2,142.2 554.7,141.9 555.2,142.3 555.7,142.4 556.2,142.0 556.7,142.7 557.2,143.0 557.7,142.7 558.2,142.5 558.7,142.3 559.2,142.8 559.7,142.3 560.2,143.1 560.7,143.0 561.2,143.3 561.7,143.2 562.2,142.2 562.7,142.4 563.2,143.1 563.7,142.5 564.2,142.5 564.7,142.9 565.2,142.7 565.7,141.9 566.2,142.6 566.7,143.1 567.2,143.1 567.7,141.9 568.2,143.0 568.7,142.8 569.2,142.0 569.7,142.1 570.2,142.9 570.7,142.7 571.2,142.7 571.7,142.6 572.2,141.9 572.7,141.5 573.2,140.5 573.6,140.1 573.7,140.1 574.2,140.9 574.7,141.3 575.2,141.6 575.7,142.8 576.2,142.5 576.7,142.2 577.2,141.8 577.7,142.8 578.2,142.3 578.7,142.3 579.2,141.8 579.7,142.1 580.2,142.7 580.7,142.5 581.2,142.5 581.7,142.4 582.2,142.3 582.7,142.6 583.2,142.5 583.7,142.0 584.2,143.0 584.7,142.7 585.2,143.0 585.7,142.9 586.2,142.0 586.7,142.3 587.2,142.4 587.7,142.7 588.2,142.9 588.7,142.5 589.2,142.7 589.7,142.6 590.2,141.9 590.7,142.7 591.2,143.5 591.7,143.6 592.2,142.2 592.7,143.5 593.2,143.1 593.7,143.3 594.2,142.6 594.7,142.4 595.2,143.0 595.7,143.5 596.2,142.7 596.7,141.7 597.2,143.1 597.7,142.2 598.2,142.0 598.7,141.9 599.2,141.8 599.7,142.2 600.2,142.6 600.7,142.9 601.2,142.9 601.7,142.7 602.2,142.3 602.7,143.1 603.2,143.5 603.7,143.2 604.2,142.9 604.7,143.5 605.2,143.5 605.7,143.0 606.2,142.9 606.7,142.6 607.2,143.0 607.7,143.3 608.2,143.2 608.7,143.3 609.2,142.4 609.7,143.1 610.2,141.7 610.7,142.9 611.2,142.8 611.7,142.6 612.2,142.6 612.7,143.4 613.2,143.0 613.7,143.6 614.2,143.5 614.7,143.2 615.2,143.1 615.7,142.9 616.2,142.6 616.7,143.2 617.2,143.0 617.7,142.7 618.2,143.4 618.7,143.3 619.2,142.1 619.7,142.3 620.2,142.6 620.7,142.9 621.2,143.5 621.7,143.0 622.2,142.9 622.7,143.0 623.2,142.9 623.7,143.1 624.2,143.9 624.7,142.8 625.2,143.0 625.7,142.6 626.2,143.4 626.7,143.6 627.2,143.5 627.7,142.9 628.2,142.7 628.7,143.1 629.2,142.7 629.7,143.2 630.2,142.6 630.7,143.4 631.2,143.3 631.7,143.1 632.2,142.1 632.7,141.7 633.2,141.5 633.7,141.3 634.2,141.0 634.7,140.9 635.2,141.4 635.7,142.5 636.2,142.0 636.7,142.4 637.2,142.5 637.7,142.8 638.2,142.5 638.7,143.4 639.2,143.6 639.7,143.6 640.2,143.3 640.7,143.2 641.2,143.0 641.7,143.1 642.2,142.9 642.7,143.1 643.2,142.2 643.7,143.2 644.2,141.7 644.7,142.1 645.2,141.9 645.7,143.0 646.2,142.2 646.7,142.8 647.2,141.5 647.7,143.0 648.2,142.4 648.7,141.7 649.2,141.3 649.7,141.8 650.2,141.2 650.7,139.6 651.2,140.3 651.7,139.8 652.2,139.1 652.7,139.6 653.2,138.6 653.7,138.7 654.2,138.9 654.7,139.3 655.2,140.2 655.7,139.7 656.2,140.2 656.7,139.9 657.2,140.2 657.7,141.3 658.2,141.2 658.7,141.1 659.2,141.3 659.7,141.2 660.2,141.8 660.7,142.2 661.2,142.4 661.7,142.4 662.2,142.7 662.7,143.4 663.2,143.7 663.7,143.5 664.2,143.8 664.7,143.6 665.2,143.8 665.7,143.8 666.2,143.1 666.7,143.2 667.2,142.6 667.7,143.0 668.2,143.4 668.7,143.8 669.2,143.9 669.7,143.2 670.2,142.9 670.7,143.5 671.2,143.4 671.7,143.7 672.2,143.6"/>
</g>
<g stroke="#000" stroke-width="3.2" fill="none">
<rect x="61.7" y="1.0" width="610.8" height="490.5"/>
</g>
<g stroke="#000" stroke-width="3.0">
<line x1="61.7" y1="491.5" x2="61.7" y2="501.0"/>
<line x1="112.6" y1="491.5" x2="112.6" y2="496.5"/>
<line x1="163.5" y1="491.5" x2="163.5" y2="501.0"/>
<line x1="214.4" y1="491.5" x2="214.4" y2="496.5"/>
<line x1="265.3" y1="491.5" x2="265.3" y2="501.0"/>
<line x1="316.2" y1="491.5" x2="316.2" y2="496.5"/>
<line x1="367.1" y1="491.5" x2="367.1" y2="501.0"/>
<line x1="418.0" y1="491.5" x2="418.0" y2="496.5"/>
<line x1="468.9" y1="491.5" x2="468.9" y2="501.0"/>
<line x1="519.8" y1="491.5" x2="519.8" y2="496.5"/>
<line x1="570.7" y1="491.5" x2="570.7" y2="501.0"/>
<line x1="621.6" y1="491.5" x2="621.6" y2="496.5"/>
<line x1="672.5" y1="491.5" x2="672.5" y2="501.0"/>
</g>
<g id="ticklabels" stroke-width="0.2">
<text x="49.3" y="523.5" font-size="24.1" textLength="25.1" lengthAdjust="spacingAndGlyphs" fill="#000" stroke="#000">10</text>
<text x="150.9" y="523.5" font-size="24.1" textLength="26.2" lengthAdjust="spacingAndGlyphs" fill="#000" stroke="#000">20</text>
<text x="253.0" y="523.5" font-size="24.1" textLength="26.0" lengthAdjust="spacingAndGlyphs" fill="#000" stroke="#000">30</text>
<text x="354.6" y="523.5" font-size="24.1" textLength="26.3" lengthAdjust="spacingAndGlyphs" fill="#000" stroke="#000">40</text>
<text x="456.3" y="523.5" font-size="24.1" textLength="26.2" lengthAdjust="spacingAndGlyphs" fill="#000" stroke="#000">50</text>
<text x="557.9" y="523.5" font-size="24.1" textLength="26.5" lengthAdjust="spacingAndGlyphs" fill="#000" stroke="#000">60</text>
<text x="659.7" y="523.5" font-size="24.1" textLength="26.5" lengthAdjust="spacingAndGlyphs" fill="#000" stroke="#000">70</text>
</g>
<g id="labels" stroke-width="0.3" stroke-linejoin="round">
<text x="145.3" y="28.0" font-size="24.0" textLength="29.9" lengthAdjust="spacingAndGlyphs" fill="#ff00ff" stroke="#ff00ff">Q1</text>
<text x="181.9" y="91.3" font-size="22.7" textLength="15.3" lengthAdjust="spacingAndGlyphs" fill="#ff00ff" stroke="#ff00ff">T</text>
<text x="240.3" y="41.3" font-size="24.0" textLength="61.2" lengthAdjust="spacingAndGlyphs" fill="#ff00ff" stroke="#ff00ff">Q<tspan font-size="0.9em">2+</tspan>G</text>
<text x="387.6" y="102.0" font-size="24.0" textLength="20.9" lengthAdjust="spacingAndGlyphs" fill="#ff00ff" stroke="#ff00ff">Q</text>
<text x="601.4" y="117.4" font-size="22.7" textLength="64.6" lengthAdjust="spacingAndGlyphs" fill="#ff00ff" stroke="#ff00ff"><tspan font-style="italic">AC7</tspan>Fe</text>
<text x="142.8" y="187.8" font-size="24.0" textLength="29.4" lengthAdjust="spacingAndGlyphs" fill="#008000" stroke="#008000">Q1</text>
<text x="180.8" y="188.4" font-size="22.7" textLength="14.1" lengthAdjust="spacingAndGlyphs" fill="#008000" stroke="#008000">T</text>
<text x="200.2" y="163.1" font-size="24.0" textLength="16.3" lengthAdjust="spacingAndGlyphs" fill="#008000" stroke="#008000"><tspan font-style="italic">G</tspan></text>
<text x="239.5" y="166.3" font-size="24.0" textLength="31.8" lengthAdjust="spacingAndGlyphs" fill="#008000" stroke="#008000">Q<tspan font-size="0.9em">2</tspan></text>
<text x="316.0" y="199.5" font-size="24.0" textLength="32.2" lengthAdjust="spacingAndGlyphs" fill="#008000" stroke="#008000">Q<tspan font-size="0.88em">3</tspan></text>
<text x="354.8" y="192.6" font-size="24.0" textLength="19.8" lengthAdjust="spacingAndGlyphs" fill="#008000" stroke="#008000">Q</text>
<text x="602.2" y="183.0" font-size="22.7" textLength="64.8" lengthAdjust="spacingAndGlyphs" fill="#008000" stroke="#008000"><tspan font-style="italic">AC</tspan>5Fe</text>
<text x="140.3" y="238.5" font-size="24.0" textLength="29.2" lengthAdjust="spacingAndGlyphs" fill="#0000ff" stroke="#0000ff">Q1</text>
<text x="176.7" y="240.3" font-size="22.7" textLength="15.7" lengthAdjust="spacingAndGlyphs" fill="#0000ff" stroke="#0000ff">T</text>
<text x="238.1" y="250.7" font-size="24.0" textLength="58.3" lengthAdjust="spacingAndGlyphs" fill="#0000ff" stroke="#0000ff">Q<tspan font-size="0.9em">2+</tspan>G</text>
<text x="461.9" y="275.6" font-size="24.0" textLength="21.4" lengthAdjust="spacingAndGlyphs" fill="#0000ff" stroke="#0000ff">Q</text>
<text x="597.4" y="274.9" font-size="22.7" textLength="64.4" lengthAdjust="spacingAndGlyphs" fill="#0000ff" stroke="#0000ff"><tspan font-style="italic">AC3</tspan>F<tspan font-style="italic">e</tspan></text>
<text x="143.5" y="297.8" font-size="24.0" textLength="28.5" lengthAdjust="spacingAndGlyphs" fill="#ff0000" stroke="#ff0000">Q1</text>
<text x="180.8" y="373.6" font-size="22.7" textLength="14.1" lengthAdjust="spacingAndGlyphs" fill="#ff0000" stroke="#ff0000">T</text>
<text x="239.1" y="332.1" font-size="24.0" textLength="61.0" lengthAdjust="spacingAndGlyphs" fill="#ff0000" stroke="#ff0000">Q<tspan font-size="0.9em">2+</tspan>G</text>
<text x="385.2" y="365.3" font-size="24.0" textLength="20.9" lengthAdjust="spacingAndGlyphs" fill="#ff0000" stroke="#ff0000">Q</text>
<text x="461.0" y="403.3" font-size="24.0" textLength="19.8" lengthAdjust="spacingAndGlyphs" fill="#ff0000" stroke="#ff0000">Q</text>
<text x="563.5" y="404.8" font-size="24.0" textLength="20.9" lengthAdjust="spacingAndGlyphs" fill="#ff0000" stroke="#ff0000">Q</text>
<text x="643.4" y="404.8" font-size="24.0" textLength="20.0" lengthAdjust="spacingAndGlyphs" fill="#ff0000" stroke="#ff0000">Q</text>
<text x="618.9" y="373.8" font-size="22.7" textLength="39.1" lengthAdjust="spacingAndGlyphs" fill="#ff0000" stroke="#ff0000"><tspan font-style="italic">AC3</tspan></text>
<text x="127.1" y="431.3" font-size="24.0" textLength="28.6" lengthAdjust="spacingAndGlyphs" fill="#000000" stroke="#000000">Q1</text>
<text x="179.3" y="426.1" font-size="22.7" textLength="15.9" lengthAdjust="spacingAndGlyphs" fill="#000000" stroke="#000000">T</text>
<text x="239.7" y="440.4" font-size="24.0" textLength="61.1" lengthAdjust="spacingAndGlyphs" fill="#000000" stroke="#000000">Q<tspan font-size="0.9em">2+</tspan>G</text>
<text x="327.0" y="460.4" font-size="24.0" textLength="32.5" lengthAdjust="spacingAndGlyphs" fill="#000000" stroke="#000000">Q<tspan font-size="0.88em">3</tspan></text>
<text x="566.0" y="464.0" font-size="24.0" textLength="20.0" lengthAdjust="spacingAndGlyphs" fill="#000000" stroke="#000000">Q</text>
<text x="629.7" y="463.1" font-size="22.7" textLength="27.3" lengthAdjust="spacingAndGlyphs" fill="#000000" stroke="#000000"><tspan font-style="italic">AC</tspan></text>
</g>
<g id="arrows" stroke-width="1.8" fill="none" stroke-linecap="round">
<path d="M216.2,164.2 L221,167" stroke="#008000"/>
<path d="M217.9,168.8 L221.3,163.3 L230,173.8 Z" fill="#008000" stroke="#008000" stroke-width="0.8" stroke-linejoin="round"/>
<path d="M157.6,425.7 L165,430" stroke="#000"/>
<path d="M165.4,426.6 L162.4,432.9 L175,436.1 Z" fill="#000" stroke="#000" stroke-width="0.8" stroke-linejoin="round"/>
</g>
<g id="titles" stroke-width="1.25" stroke-linejoin="round">
<text x="287.7" y="575.0" font-size="27.0" textLength="16.2" lengthAdjust="spacingAndGlyphs" fill="#000" stroke="#000" style="font-weight:normal">2</text><text x="303.5" y="575.0" font-size="27.0" textLength="14.6" lengthAdjust="spacingAndGlyphs" fill="#000" stroke="none" style="font-weight:normal">θ</text><text x="327.6" y="575.0" font-size="27.0" textLength="121.7" lengthAdjust="spacingAndGlyphs" fill="#000" stroke="#000" style="font-weight:normal">(Degrees)</text>
<g transform="translate(20.7,338.2) rotate(-90)"><text x="-2.8" y="0.0" font-size="27.5" textLength="116.3" lengthAdjust="spacingAndGlyphs" fill="#000" stroke="#000" style="font-weight:normal">Intensity</text><text x="118.6" y="0.0" font-size="27.5" textLength="38.8" lengthAdjust="spacingAndGlyphs" fill="#000" stroke="#000" style="font-weight:normal">(a.</text><text x="168.7" y="0.0" font-size="27.5" textLength="38.2" lengthAdjust="spacingAndGlyphs" fill="#000" stroke="#000" style="font-weight:normal">u.)</text></g>
</g>
</svg>
</body></html>
